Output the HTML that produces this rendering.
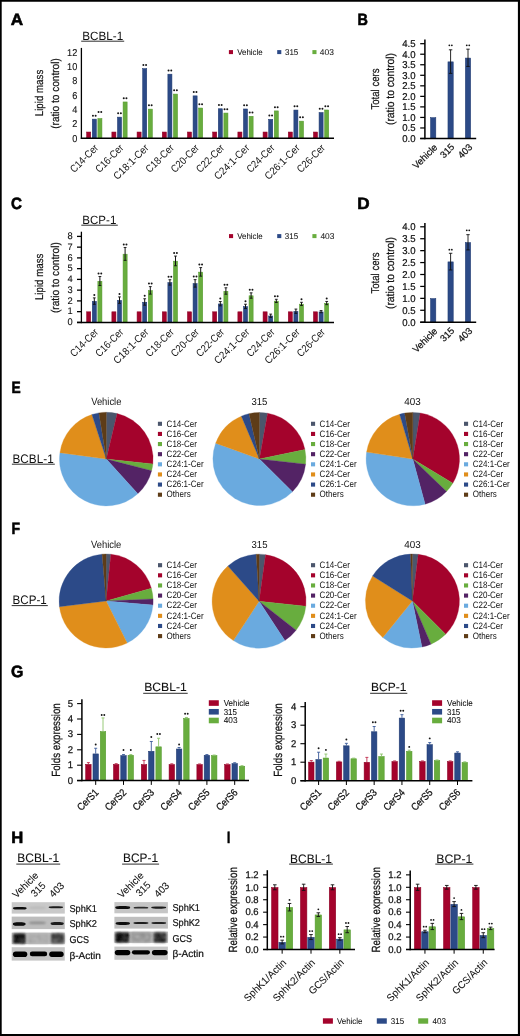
<!DOCTYPE html>
<html><head><meta charset="utf-8"><title>Figure</title>
<style>html,body{margin:0;padding:0;background:#fff;width:520px;height:1036px;overflow:hidden}svg{display:block;will-change:transform}</style>
</head><body>
<svg width="520" height="1036" viewBox="0 0 520 1036" text-rendering="geometricPrecision" font-family='"Liberation Sans", sans-serif' fill="#111"><defs><filter id="bl" x="-30%" y="-100%" width="160%" height="300%"><feGaussianBlur stdDeviation="0.6"/></filter><filter id="bl2" x="-30%" y="-100%" width="160%" height="300%"><feGaussianBlur stdDeviation="1.0"/></filter><filter id="bl3" x="-20%" y="-30%" width="140%" height="160%"><feGaussianBlur stdDeviation="0.9"/></filter></defs><rect width="520" height="1036" fill="#fff"/><path d="M0 0H520V1036H0Z M1.7 1.7V1033.9H517.9V1.7Z" fill="#000" fill-rule="evenodd"/>
<text x="10.77" y="25.1" font-size="16.4" font-weight="bold" textLength="12.37" lengthAdjust="spacingAndGlyphs" fill="#000" stroke="#000" stroke-width="0.6">A</text>
<text x="82.2" y="39.9" font-size="12" textLength="41" lengthAdjust="spacingAndGlyphs">BCBL-1</text>
<line x1="81.2" y1="41.2" x2="124.2" y2="41.2" stroke="#222" stroke-width="0.95"/>
<text x="77.3" y="141.7" font-size="9.9" text-anchor="end" textLength="5.1" lengthAdjust="spacingAndGlyphs" stroke="#111" stroke-width="0.1">0</text>
<text x="77.3" y="127.38" font-size="9.9" text-anchor="end" textLength="5.1" lengthAdjust="spacingAndGlyphs" stroke="#111" stroke-width="0.1">2</text>
<text x="77.3" y="113.06" font-size="9.9" text-anchor="end" textLength="5.1" lengthAdjust="spacingAndGlyphs" stroke="#111" stroke-width="0.1">4</text>
<text x="77.3" y="98.74" font-size="9.9" text-anchor="end" textLength="5.1" lengthAdjust="spacingAndGlyphs" stroke="#111" stroke-width="0.1">6</text>
<text x="77.3" y="84.42" font-size="9.9" text-anchor="end" textLength="5.1" lengthAdjust="spacingAndGlyphs" stroke="#111" stroke-width="0.1">8</text>
<text x="77.3" y="70.1" font-size="9.9" text-anchor="end" textLength="10.2" lengthAdjust="spacingAndGlyphs" stroke="#111" stroke-width="0.1">10</text>
<text x="77.3" y="55.78" font-size="9.9" text-anchor="end" textLength="10.2" lengthAdjust="spacingAndGlyphs" stroke="#111" stroke-width="0.1">12</text>
<rect x="86.68" y="132.03" width="4.05" height="5.89" fill="#a4032c" stroke="#8c0325" stroke-width="0.55"/>
<rect x="92.28" y="119.14" width="4.05" height="18.78" fill="#2c4a87" stroke="#1f3a70" stroke-width="0.55"/>
<rect x="97.88" y="118.57" width="4.05" height="19.35" fill="#68ad3e" stroke="#559a2e" stroke-width="0.55"/>
<circle cx="92.95" cy="115.7" r="1" fill="#161616"/>
<circle cx="95.65" cy="115.7" r="1" fill="#161616"/>
<circle cx="98.55" cy="112" r="1" fill="#161616"/>
<circle cx="101.25" cy="112" r="1" fill="#161616"/>
<rect x="111.88" y="132.03" width="4.05" height="5.89" fill="#a4032c" stroke="#8c0325" stroke-width="0.55"/>
<rect x="117.48" y="117.14" width="4.05" height="20.79" fill="#2c4a87" stroke="#1f3a70" stroke-width="0.55"/>
<rect x="123.08" y="101.96" width="4.05" height="35.97" fill="#68ad3e" stroke="#559a2e" stroke-width="0.55"/>
<circle cx="118.15" cy="113.36" r="1" fill="#161616"/>
<circle cx="120.85" cy="113.36" r="1" fill="#161616"/>
<circle cx="123.75" cy="98.18" r="1" fill="#161616"/>
<circle cx="126.45" cy="98.18" r="1" fill="#161616"/>
<rect x="137.08" y="132.03" width="4.05" height="5.89" fill="#a4032c" stroke="#8c0325" stroke-width="0.55"/>
<rect x="142.68" y="68.66" width="4.05" height="69.26" fill="#2c4a87" stroke="#1f3a70" stroke-width="0.55"/>
<rect x="148.28" y="109.12" width="4.05" height="28.81" fill="#68ad3e" stroke="#559a2e" stroke-width="0.55"/>
<circle cx="143.35" cy="64.89" r="1" fill="#161616"/>
<circle cx="146.05" cy="64.89" r="1" fill="#161616"/>
<circle cx="148.95" cy="105.34" r="1" fill="#161616"/>
<circle cx="151.65" cy="105.34" r="1" fill="#161616"/>
<rect x="162.28" y="132.03" width="4.05" height="5.89" fill="#a4032c" stroke="#8c0325" stroke-width="0.55"/>
<rect x="167.88" y="74.18" width="4.05" height="63.75" fill="#2c4a87" stroke="#1f3a70" stroke-width="0.55"/>
<rect x="173.47" y="94.08" width="4.05" height="43.84" fill="#68ad3e" stroke="#559a2e" stroke-width="0.55"/>
<circle cx="168.55" cy="70.4" r="1" fill="#161616"/>
<circle cx="171.25" cy="70.4" r="1" fill="#161616"/>
<circle cx="174.15" cy="90.31" r="1" fill="#161616"/>
<circle cx="176.85" cy="90.31" r="1" fill="#161616"/>
<rect x="187.47" y="132.03" width="4.05" height="5.89" fill="#a4032c" stroke="#8c0325" stroke-width="0.55"/>
<rect x="193.07" y="95.87" width="4.05" height="42.05" fill="#2c4a87" stroke="#1f3a70" stroke-width="0.55"/>
<rect x="198.67" y="108.04" width="4.05" height="29.88" fill="#68ad3e" stroke="#559a2e" stroke-width="0.55"/>
<circle cx="193.75" cy="92.1" r="1" fill="#161616"/>
<circle cx="196.45" cy="92.1" r="1" fill="#161616"/>
<circle cx="199.35" cy="104.27" r="1" fill="#161616"/>
<circle cx="202.05" cy="104.27" r="1" fill="#161616"/>
<rect x="212.68" y="132.03" width="4.05" height="5.89" fill="#a4032c" stroke="#8c0325" stroke-width="0.55"/>
<rect x="218.28" y="108.76" width="4.05" height="29.16" fill="#2c4a87" stroke="#1f3a70" stroke-width="0.55"/>
<rect x="223.88" y="113.06" width="4.05" height="24.87" fill="#68ad3e" stroke="#559a2e" stroke-width="0.55"/>
<circle cx="218.95" cy="104.99" r="1" fill="#161616"/>
<circle cx="221.65" cy="104.99" r="1" fill="#161616"/>
<circle cx="224.55" cy="109.28" r="1" fill="#161616"/>
<circle cx="227.25" cy="109.28" r="1" fill="#161616"/>
<rect x="237.88" y="132.03" width="4.05" height="5.89" fill="#a4032c" stroke="#8c0325" stroke-width="0.55"/>
<rect x="243.47" y="108.98" width="4.05" height="28.95" fill="#2c4a87" stroke="#1f3a70" stroke-width="0.55"/>
<rect x="249.07" y="116.28" width="4.05" height="21.65" fill="#68ad3e" stroke="#559a2e" stroke-width="0.55"/>
<circle cx="244.15" cy="105.2" r="1" fill="#161616"/>
<circle cx="246.85" cy="105.2" r="1" fill="#161616"/>
<circle cx="249.75" cy="112.5" r="1" fill="#161616"/>
<circle cx="252.45" cy="112.5" r="1" fill="#161616"/>
<rect x="263.07" y="132.03" width="4.05" height="5.89" fill="#a4032c" stroke="#8c0325" stroke-width="0.55"/>
<rect x="268.68" y="119.36" width="4.05" height="18.57" fill="#2c4a87" stroke="#1f3a70" stroke-width="0.55"/>
<rect x="274.27" y="110.91" width="4.05" height="27.02" fill="#68ad3e" stroke="#559a2e" stroke-width="0.55"/>
<circle cx="269.35" cy="115.58" r="1" fill="#161616"/>
<circle cx="272.05" cy="115.58" r="1" fill="#161616"/>
<circle cx="274.95" cy="107.13" r="1" fill="#161616"/>
<circle cx="277.65" cy="107.13" r="1" fill="#161616"/>
<rect x="288.27" y="132.03" width="4.05" height="5.89" fill="#a4032c" stroke="#8c0325" stroke-width="0.55"/>
<rect x="293.88" y="110.05" width="4.05" height="27.88" fill="#2c4a87" stroke="#1f3a70" stroke-width="0.55"/>
<rect x="299.47" y="121.15" width="4.05" height="16.78" fill="#68ad3e" stroke="#559a2e" stroke-width="0.55"/>
<circle cx="294.55" cy="106.27" r="1" fill="#161616"/>
<circle cx="297.25" cy="106.27" r="1" fill="#161616"/>
<circle cx="300.15" cy="117.37" r="1" fill="#161616"/>
<circle cx="302.85" cy="117.37" r="1" fill="#161616"/>
<rect x="313.47" y="132.03" width="4.05" height="5.89" fill="#a4032c" stroke="#8c0325" stroke-width="0.55"/>
<rect x="319.07" y="112.56" width="4.05" height="25.37" fill="#2c4a87" stroke="#1f3a70" stroke-width="0.55"/>
<rect x="324.67" y="109.98" width="4.05" height="27.95" fill="#68ad3e" stroke="#559a2e" stroke-width="0.55"/>
<circle cx="319.75" cy="108.78" r="1" fill="#161616"/>
<circle cx="322.45" cy="108.78" r="1" fill="#161616"/>
<circle cx="325.35" cy="106.2" r="1" fill="#161616"/>
<circle cx="328.05" cy="106.2" r="1" fill="#161616"/>
<line x1="81.4" y1="47.9" x2="81.4" y2="139" stroke="#000" stroke-width="1.3"/>
<line x1="80.8" y1="138.2" x2="334" y2="138.2" stroke="#000" stroke-width="1.5"/>
<text x="99" y="148.5" font-size="10.5" text-anchor="end" textLength="35" lengthAdjust="spacingAndGlyphs" transform="rotate(-45 99 148.5)">C14-Cer</text>
<text x="124.2" y="148.5" font-size="10.5" text-anchor="end" textLength="35" lengthAdjust="spacingAndGlyphs" transform="rotate(-45 124.2 148.5)">C16-Cer</text>
<text x="149.4" y="148.5" font-size="10.5" text-anchor="end" textLength="45" lengthAdjust="spacingAndGlyphs" transform="rotate(-45 149.4 148.5)">C18:1-Cer</text>
<text x="174.6" y="148.5" font-size="10.5" text-anchor="end" textLength="35" lengthAdjust="spacingAndGlyphs" transform="rotate(-45 174.6 148.5)">C18-Cer</text>
<text x="199.8" y="148.5" font-size="10.5" text-anchor="end" textLength="35" lengthAdjust="spacingAndGlyphs" transform="rotate(-45 199.8 148.5)">C20-Cer</text>
<text x="225" y="148.5" font-size="10.5" text-anchor="end" textLength="35" lengthAdjust="spacingAndGlyphs" transform="rotate(-45 225 148.5)">C22-Cer</text>
<text x="250.2" y="148.5" font-size="10.5" text-anchor="end" textLength="45" lengthAdjust="spacingAndGlyphs" transform="rotate(-45 250.2 148.5)">C24:1-Cer</text>
<text x="275.4" y="148.5" font-size="10.5" text-anchor="end" textLength="35" lengthAdjust="spacingAndGlyphs" transform="rotate(-45 275.4 148.5)">C24-Cer</text>
<text x="300.6" y="148.5" font-size="10.5" text-anchor="end" textLength="45" lengthAdjust="spacingAndGlyphs" transform="rotate(-45 300.6 148.5)">C26:1-Cer</text>
<text x="325.8" y="148.5" font-size="10.5" text-anchor="end" textLength="35" lengthAdjust="spacingAndGlyphs" transform="rotate(-45 325.8 148.5)">C26-Cer</text>
<text x="43.4" y="93" font-size="11.3" text-anchor="middle" textLength="46.5" lengthAdjust="spacingAndGlyphs" transform="rotate(-90 43.4 93)" stroke="#111" stroke-width="0.2">Lipid mass</text>
<text x="58.9" y="93.5" font-size="11.3" text-anchor="middle" textLength="70.6" lengthAdjust="spacingAndGlyphs" transform="rotate(-90 58.9 93.5)" stroke="#111" stroke-width="0.2">(ratio to control)</text>
<rect x="228.9" y="50.1" width="4.1" height="4" fill="#a4032c"/>
<text x="237.2" y="54.8" font-size="8.3" textLength="25.5" lengthAdjust="spacingAndGlyphs" stroke="#111" stroke-width="0.05">Vehicle</text>
<rect x="277.2" y="50.1" width="4.1" height="4" fill="#2c4a87"/>
<text x="285" y="54.8" font-size="8.3" textLength="13.3" lengthAdjust="spacingAndGlyphs" stroke="#111" stroke-width="0.05">315</text>
<rect x="312.4" y="50.1" width="4.1" height="4" fill="#68ad3e"/>
<text x="319.8" y="54.8" font-size="8.3" textLength="14" lengthAdjust="spacingAndGlyphs" stroke="#111" stroke-width="0.05">403</text>
<text x="357.53" y="24.6" font-size="16.4" font-weight="bold" textLength="10.42" lengthAdjust="spacingAndGlyphs" fill="#000" stroke="#000" stroke-width="0.6">B</text>
<text x="415.6" y="141.8" font-size="9.9" text-anchor="end" textLength="13.3" lengthAdjust="spacingAndGlyphs" stroke="#111" stroke-width="0.22">0.0</text>
<line x1="420.2" y1="138.5" x2="424.9" y2="138.5" stroke="#000" stroke-width="1.25"/>
<text x="415.6" y="131.27" font-size="9.9" text-anchor="end" textLength="13.3" lengthAdjust="spacingAndGlyphs" stroke="#111" stroke-width="0.22">0.5</text>
<line x1="420.2" y1="127.97" x2="424.9" y2="127.97" stroke="#000" stroke-width="1.25"/>
<text x="415.6" y="120.73" font-size="9.9" text-anchor="end" textLength="13.3" lengthAdjust="spacingAndGlyphs" stroke="#111" stroke-width="0.22">1.0</text>
<line x1="420.2" y1="117.43" x2="424.9" y2="117.43" stroke="#000" stroke-width="1.25"/>
<text x="415.6" y="110.19" font-size="9.9" text-anchor="end" textLength="13.3" lengthAdjust="spacingAndGlyphs" stroke="#111" stroke-width="0.22">1.5</text>
<line x1="420.2" y1="106.89" x2="424.9" y2="106.89" stroke="#000" stroke-width="1.25"/>
<text x="415.6" y="99.66" font-size="9.9" text-anchor="end" textLength="13.3" lengthAdjust="spacingAndGlyphs" stroke="#111" stroke-width="0.22">2.0</text>
<line x1="420.2" y1="96.36" x2="424.9" y2="96.36" stroke="#000" stroke-width="1.25"/>
<text x="415.6" y="89.12" font-size="9.9" text-anchor="end" textLength="13.3" lengthAdjust="spacingAndGlyphs" stroke="#111" stroke-width="0.22">2.5</text>
<line x1="420.2" y1="85.83" x2="424.9" y2="85.83" stroke="#000" stroke-width="1.25"/>
<text x="415.6" y="78.59" font-size="9.9" text-anchor="end" textLength="13.3" lengthAdjust="spacingAndGlyphs" stroke="#111" stroke-width="0.22">3.0</text>
<line x1="420.2" y1="75.29" x2="424.9" y2="75.29" stroke="#000" stroke-width="1.25"/>
<text x="415.6" y="68.05" font-size="9.9" text-anchor="end" textLength="13.3" lengthAdjust="spacingAndGlyphs" stroke="#111" stroke-width="0.22">3.5</text>
<line x1="420.2" y1="64.75" x2="424.9" y2="64.75" stroke="#000" stroke-width="1.25"/>
<text x="415.6" y="57.52" font-size="9.9" text-anchor="end" textLength="13.3" lengthAdjust="spacingAndGlyphs" stroke="#111" stroke-width="0.22">4.0</text>
<line x1="420.2" y1="54.22" x2="424.9" y2="54.22" stroke="#000" stroke-width="1.25"/>
<text x="415.6" y="46.98" font-size="9.9" text-anchor="end" textLength="13.3" lengthAdjust="spacingAndGlyphs" stroke="#111" stroke-width="0.22">4.5</text>
<line x1="420.2" y1="43.69" x2="424.9" y2="43.69" stroke="#000" stroke-width="1.25"/>
<rect x="430.57" y="117.71" width="5.25" height="20.52" fill="#2c4a87" stroke="#1f3a70" stroke-width="0.55"/>
<rect x="447.97" y="61.87" width="5.25" height="76.36" fill="#2c4a87" stroke="#1f3a70" stroke-width="0.55"/>
<line x1="450.6" y1="49.8" x2="450.6" y2="73.39" stroke="#111" stroke-width="0.9"/>
<line x1="448.9" y1="49.8" x2="452.3" y2="49.8" stroke="#111" stroke-width="0.9"/>
<line x1="448.9" y1="73.39" x2="452.3" y2="73.39" stroke="#111" stroke-width="0.9"/>
<circle cx="449.35" cy="45.3" r="0.9" fill="#161616"/>
<circle cx="451.85" cy="45.3" r="0.9" fill="#161616"/>
<rect x="465.38" y="58.08" width="5.25" height="80.15" fill="#2c4a87" stroke="#1f3a70" stroke-width="0.55"/>
<line x1="468" y1="49.16" x2="468" y2="66.44" stroke="#111" stroke-width="0.9"/>
<line x1="466.3" y1="49.16" x2="469.7" y2="49.16" stroke="#111" stroke-width="0.9"/>
<line x1="466.3" y1="66.44" x2="469.7" y2="66.44" stroke="#111" stroke-width="0.9"/>
<circle cx="466.75" cy="45.3" r="0.9" fill="#161616"/>
<circle cx="469.25" cy="45.3" r="0.9" fill="#161616"/>
<line x1="424.9" y1="39.5" x2="424.9" y2="139.3" stroke="#000" stroke-width="1.5"/>
<line x1="420.2" y1="138.5" x2="476.2" y2="138.5" stroke="#000" stroke-width="1.5"/>
<text x="438.1" y="148" font-size="9.6" text-anchor="end" textLength="30.5" lengthAdjust="spacingAndGlyphs" transform="rotate(-45 438.1 148)" stroke="#111" stroke-width="0.22">Vehicle</text>
<text x="455" y="147.7" font-size="9.6" text-anchor="end" textLength="15.5" lengthAdjust="spacingAndGlyphs" transform="rotate(-45 455 147.7)" stroke="#111" stroke-width="0.22">315</text>
<text x="473" y="147.7" font-size="9.6" text-anchor="end" textLength="16" lengthAdjust="spacingAndGlyphs" transform="rotate(-45 473 147.7)" stroke="#111" stroke-width="0.22">403</text>
<text x="379" y="89" font-size="11.4" text-anchor="middle" textLength="41" lengthAdjust="spacingAndGlyphs" transform="rotate(-90 379 89)" stroke="#111" stroke-width="0.22">Total cers</text>
<text x="394.2" y="89" font-size="11.4" text-anchor="middle" textLength="72" lengthAdjust="spacingAndGlyphs" transform="rotate(-90 394.2 89)" stroke="#111" stroke-width="0.22">(ratio to control)</text>
<text x="10.98" y="208.7" font-size="16.4" font-weight="bold" textLength="10.93" lengthAdjust="spacingAndGlyphs" fill="#000" stroke="#000" stroke-width="0.6">C</text>
<text x="82.3" y="223.7" font-size="12" textLength="34" lengthAdjust="spacingAndGlyphs">BCP-1</text>
<line x1="81.3" y1="225.2" x2="117.8" y2="225.2" stroke="#222" stroke-width="0.95"/>
<text x="72.8" y="325" font-size="9.5" text-anchor="end" textLength="5.2" lengthAdjust="spacingAndGlyphs" stroke="#111" stroke-width="0.1">0</text>
<line x1="77" y1="322.4" x2="81.4" y2="322.4" stroke="#000" stroke-width="1.3"/>
<text x="72.8" y="314.25" font-size="9.5" text-anchor="end" textLength="5.2" lengthAdjust="spacingAndGlyphs" stroke="#111" stroke-width="0.1">1</text>
<line x1="77" y1="311.65" x2="81.4" y2="311.65" stroke="#000" stroke-width="1.3"/>
<text x="72.8" y="303.5" font-size="9.5" text-anchor="end" textLength="5.2" lengthAdjust="spacingAndGlyphs" stroke="#111" stroke-width="0.1">2</text>
<line x1="77" y1="300.9" x2="81.4" y2="300.9" stroke="#000" stroke-width="1.3"/>
<text x="72.8" y="292.75" font-size="9.5" text-anchor="end" textLength="5.2" lengthAdjust="spacingAndGlyphs" stroke="#111" stroke-width="0.1">3</text>
<line x1="77" y1="290.15" x2="81.4" y2="290.15" stroke="#000" stroke-width="1.3"/>
<text x="72.8" y="282" font-size="9.5" text-anchor="end" textLength="5.2" lengthAdjust="spacingAndGlyphs" stroke="#111" stroke-width="0.1">4</text>
<line x1="77" y1="279.4" x2="81.4" y2="279.4" stroke="#000" stroke-width="1.3"/>
<text x="72.8" y="271.25" font-size="9.5" text-anchor="end" textLength="5.2" lengthAdjust="spacingAndGlyphs" stroke="#111" stroke-width="0.1">5</text>
<line x1="77" y1="268.65" x2="81.4" y2="268.65" stroke="#000" stroke-width="1.3"/>
<text x="72.8" y="260.5" font-size="9.5" text-anchor="end" textLength="5.2" lengthAdjust="spacingAndGlyphs" stroke="#111" stroke-width="0.1">6</text>
<line x1="77" y1="257.9" x2="81.4" y2="257.9" stroke="#000" stroke-width="1.3"/>
<text x="72.8" y="249.75" font-size="9.5" text-anchor="end" textLength="5.2" lengthAdjust="spacingAndGlyphs" stroke="#111" stroke-width="0.1">7</text>
<line x1="77" y1="247.15" x2="81.4" y2="247.15" stroke="#000" stroke-width="1.3"/>
<text x="72.8" y="239" font-size="9.5" text-anchor="end" textLength="5.2" lengthAdjust="spacingAndGlyphs" stroke="#111" stroke-width="0.1">8</text>
<line x1="77" y1="236.4" x2="81.4" y2="236.4" stroke="#000" stroke-width="1.3"/>
<rect x="86.68" y="311.82" width="4.05" height="10.31" fill="#a4032c" stroke="#8c0325" stroke-width="0.55"/>
<rect x="92.28" y="301.39" width="4.05" height="20.74" fill="#2c4a87" stroke="#1f3a70" stroke-width="0.55"/>
<rect x="97.88" y="281.29" width="4.05" height="40.84" fill="#68ad3e" stroke="#559a2e" stroke-width="0.55"/>
<line x1="94.3" y1="297.89" x2="94.3" y2="304.34" stroke="#111" stroke-width="1"/>
<line x1="92.9" y1="297.89" x2="95.7" y2="297.89" stroke="#111" stroke-width="0.9"/>
<line x1="92.9" y1="304.34" x2="95.7" y2="304.34" stroke="#111" stroke-width="0.9"/>
<line x1="99.9" y1="276.5" x2="99.9" y2="285.53" stroke="#111" stroke-width="1"/>
<line x1="98.5" y1="276.5" x2="101.3" y2="276.5" stroke="#111" stroke-width="0.9"/>
<line x1="98.5" y1="285.53" x2="101.3" y2="285.53" stroke="#111" stroke-width="0.9"/>
<circle cx="94.3" cy="294.89" r="1" fill="#161616"/>
<circle cx="98.55" cy="273.5" r="1" fill="#161616"/>
<circle cx="101.25" cy="273.5" r="1" fill="#161616"/>
<rect x="111.88" y="311.82" width="4.05" height="10.31" fill="#a4032c" stroke="#8c0325" stroke-width="0.55"/>
<rect x="117.48" y="300.42" width="4.05" height="21.7" fill="#2c4a87" stroke="#1f3a70" stroke-width="0.55"/>
<rect x="123.08" y="254.2" width="4.05" height="67.93" fill="#68ad3e" stroke="#559a2e" stroke-width="0.55"/>
<line x1="119.5" y1="296.92" x2="119.5" y2="303.37" stroke="#111" stroke-width="1"/>
<line x1="118.1" y1="296.92" x2="120.9" y2="296.92" stroke="#111" stroke-width="0.9"/>
<line x1="118.1" y1="303.37" x2="120.9" y2="303.37" stroke="#111" stroke-width="0.9"/>
<line x1="125.1" y1="247.47" x2="125.1" y2="260.37" stroke="#111" stroke-width="1"/>
<line x1="123.7" y1="247.47" x2="126.5" y2="247.47" stroke="#111" stroke-width="0.9"/>
<line x1="123.7" y1="260.37" x2="126.5" y2="260.37" stroke="#111" stroke-width="0.9"/>
<circle cx="119.5" cy="293.92" r="1" fill="#161616"/>
<circle cx="123.75" cy="244.47" r="1" fill="#161616"/>
<circle cx="126.45" cy="244.47" r="1" fill="#161616"/>
<rect x="137.08" y="311.82" width="4.05" height="10.31" fill="#a4032c" stroke="#8c0325" stroke-width="0.55"/>
<rect x="142.68" y="302.25" width="4.05" height="19.88" fill="#2c4a87" stroke="#1f3a70" stroke-width="0.55"/>
<rect x="148.28" y="290.64" width="4.05" height="31.48" fill="#68ad3e" stroke="#559a2e" stroke-width="0.55"/>
<line x1="144.7" y1="298.75" x2="144.7" y2="305.2" stroke="#111" stroke-width="1"/>
<line x1="143.3" y1="298.75" x2="146.1" y2="298.75" stroke="#111" stroke-width="0.9"/>
<line x1="143.3" y1="305.2" x2="146.1" y2="305.2" stroke="#111" stroke-width="0.9"/>
<line x1="150.3" y1="286.6" x2="150.3" y2="294.13" stroke="#111" stroke-width="1"/>
<line x1="148.9" y1="286.6" x2="151.7" y2="286.6" stroke="#111" stroke-width="0.9"/>
<line x1="148.9" y1="294.13" x2="151.7" y2="294.13" stroke="#111" stroke-width="0.9"/>
<circle cx="144.7" cy="295.75" r="1" fill="#161616"/>
<circle cx="148.95" cy="283.6" r="1" fill="#161616"/>
<circle cx="151.65" cy="283.6" r="1" fill="#161616"/>
<rect x="162.28" y="311.82" width="4.05" height="10.31" fill="#a4032c" stroke="#8c0325" stroke-width="0.55"/>
<rect x="167.88" y="282.68" width="4.05" height="39.44" fill="#2c4a87" stroke="#1f3a70" stroke-width="0.55"/>
<rect x="173.47" y="261.18" width="4.05" height="60.94" fill="#68ad3e" stroke="#559a2e" stroke-width="0.55"/>
<line x1="169.9" y1="279.72" x2="169.9" y2="285.1" stroke="#111" stroke-width="1"/>
<line x1="168.5" y1="279.72" x2="171.3" y2="279.72" stroke="#111" stroke-width="0.9"/>
<line x1="168.5" y1="285.1" x2="171.3" y2="285.1" stroke="#111" stroke-width="0.9"/>
<line x1="175.5" y1="256.07" x2="175.5" y2="265.75" stroke="#111" stroke-width="1"/>
<line x1="174.1" y1="256.07" x2="176.9" y2="256.07" stroke="#111" stroke-width="0.9"/>
<line x1="174.1" y1="265.75" x2="176.9" y2="265.75" stroke="#111" stroke-width="0.9"/>
<circle cx="168.55" cy="276.72" r="1" fill="#161616"/>
<circle cx="171.25" cy="276.72" r="1" fill="#161616"/>
<circle cx="174.15" cy="253.07" r="1" fill="#161616"/>
<circle cx="176.85" cy="253.07" r="1" fill="#161616"/>
<rect x="187.47" y="311.82" width="4.05" height="10.31" fill="#a4032c" stroke="#8c0325" stroke-width="0.55"/>
<rect x="193.07" y="283.65" width="4.05" height="38.47" fill="#2c4a87" stroke="#1f3a70" stroke-width="0.55"/>
<rect x="198.67" y="272.15" width="4.05" height="49.97" fill="#68ad3e" stroke="#559a2e" stroke-width="0.55"/>
<line x1="195.1" y1="279.62" x2="195.1" y2="287.14" stroke="#111" stroke-width="1"/>
<line x1="193.7" y1="279.62" x2="196.5" y2="279.62" stroke="#111" stroke-width="0.9"/>
<line x1="193.7" y1="287.14" x2="196.5" y2="287.14" stroke="#111" stroke-width="0.9"/>
<line x1="200.7" y1="267.57" x2="200.7" y2="276.17" stroke="#111" stroke-width="1"/>
<line x1="199.3" y1="267.57" x2="202.1" y2="267.57" stroke="#111" stroke-width="0.9"/>
<line x1="199.3" y1="276.17" x2="202.1" y2="276.17" stroke="#111" stroke-width="0.9"/>
<circle cx="193.75" cy="276.62" r="1" fill="#161616"/>
<circle cx="196.45" cy="276.62" r="1" fill="#161616"/>
<circle cx="199.35" cy="264.57" r="1" fill="#161616"/>
<circle cx="202.05" cy="264.57" r="1" fill="#161616"/>
<rect x="212.68" y="311.82" width="4.05" height="10.31" fill="#a4032c" stroke="#8c0325" stroke-width="0.55"/>
<rect x="218.28" y="303.97" width="4.05" height="18.15" fill="#2c4a87" stroke="#1f3a70" stroke-width="0.55"/>
<rect x="223.88" y="291.28" width="4.05" height="30.84" fill="#68ad3e" stroke="#559a2e" stroke-width="0.55"/>
<line x1="220.3" y1="301.54" x2="220.3" y2="305.84" stroke="#111" stroke-width="1"/>
<line x1="218.9" y1="301.54" x2="221.7" y2="301.54" stroke="#111" stroke-width="0.9"/>
<line x1="218.9" y1="305.84" x2="221.7" y2="305.84" stroke="#111" stroke-width="0.9"/>
<line x1="225.9" y1="287.78" x2="225.9" y2="294.23" stroke="#111" stroke-width="1"/>
<line x1="224.5" y1="287.78" x2="227.3" y2="287.78" stroke="#111" stroke-width="0.9"/>
<line x1="224.5" y1="294.23" x2="227.3" y2="294.23" stroke="#111" stroke-width="0.9"/>
<circle cx="220.3" cy="298.54" r="1" fill="#161616"/>
<circle cx="224.55" cy="284.78" r="1" fill="#161616"/>
<circle cx="227.25" cy="284.78" r="1" fill="#161616"/>
<rect x="237.88" y="311.82" width="4.05" height="10.31" fill="#a4032c" stroke="#8c0325" stroke-width="0.55"/>
<rect x="243.47" y="306.66" width="4.05" height="15.47" fill="#2c4a87" stroke="#1f3a70" stroke-width="0.55"/>
<rect x="249.07" y="295.8" width="4.05" height="26.32" fill="#68ad3e" stroke="#559a2e" stroke-width="0.55"/>
<line x1="245.5" y1="304.23" x2="245.5" y2="308.53" stroke="#111" stroke-width="1"/>
<line x1="244.1" y1="304.23" x2="246.9" y2="304.23" stroke="#111" stroke-width="0.9"/>
<line x1="244.1" y1="308.53" x2="246.9" y2="308.53" stroke="#111" stroke-width="0.9"/>
<line x1="251.1" y1="292.84" x2="251.1" y2="298.21" stroke="#111" stroke-width="1"/>
<line x1="249.7" y1="292.84" x2="252.5" y2="292.84" stroke="#111" stroke-width="0.9"/>
<line x1="249.7" y1="298.21" x2="252.5" y2="298.21" stroke="#111" stroke-width="0.9"/>
<circle cx="245.5" cy="301.23" r="1" fill="#161616"/>
<circle cx="249.75" cy="289.84" r="1" fill="#161616"/>
<circle cx="252.45" cy="289.84" r="1" fill="#161616"/>
<rect x="263.07" y="311.82" width="4.05" height="10.31" fill="#a4032c" stroke="#8c0325" stroke-width="0.55"/>
<rect x="268.68" y="316.01" width="4.05" height="6.12" fill="#2c4a87" stroke="#1f3a70" stroke-width="0.55"/>
<rect x="274.27" y="301.17" width="4.05" height="20.95" fill="#68ad3e" stroke="#559a2e" stroke-width="0.55"/>
<line x1="270.7" y1="314.12" x2="270.7" y2="317.35" stroke="#111" stroke-width="1"/>
<line x1="269.3" y1="314.12" x2="272.1" y2="314.12" stroke="#111" stroke-width="0.9"/>
<line x1="269.3" y1="317.35" x2="272.1" y2="317.35" stroke="#111" stroke-width="0.9"/>
<line x1="276.3" y1="299.29" x2="276.3" y2="302.51" stroke="#111" stroke-width="1"/>
<line x1="274.9" y1="299.29" x2="277.7" y2="299.29" stroke="#111" stroke-width="0.9"/>
<line x1="274.9" y1="302.51" x2="277.7" y2="302.51" stroke="#111" stroke-width="0.9"/>
<circle cx="274.95" cy="296.29" r="1" fill="#161616"/>
<circle cx="277.65" cy="296.29" r="1" fill="#161616"/>
<rect x="288.27" y="311.82" width="4.05" height="10.31" fill="#a4032c" stroke="#8c0325" stroke-width="0.55"/>
<rect x="293.88" y="311.49" width="4.05" height="10.63" fill="#2c4a87" stroke="#1f3a70" stroke-width="0.55"/>
<rect x="299.47" y="304.18" width="4.05" height="17.94" fill="#68ad3e" stroke="#559a2e" stroke-width="0.55"/>
<line x1="295.9" y1="309.07" x2="295.9" y2="313.37" stroke="#111" stroke-width="1"/>
<line x1="294.5" y1="309.07" x2="297.3" y2="309.07" stroke="#111" stroke-width="0.9"/>
<line x1="294.5" y1="313.37" x2="297.3" y2="313.37" stroke="#111" stroke-width="0.9"/>
<line x1="301.5" y1="302.3" x2="301.5" y2="305.52" stroke="#111" stroke-width="1"/>
<line x1="300.1" y1="302.3" x2="302.9" y2="302.3" stroke="#111" stroke-width="0.9"/>
<line x1="300.1" y1="305.52" x2="302.9" y2="305.52" stroke="#111" stroke-width="0.9"/>
<circle cx="301.5" cy="299.3" r="1" fill="#161616"/>
<rect x="313.47" y="311.82" width="4.05" height="10.31" fill="#a4032c" stroke="#8c0325" stroke-width="0.55"/>
<rect x="319.07" y="311.92" width="4.05" height="10.2" fill="#2c4a87" stroke="#1f3a70" stroke-width="0.55"/>
<rect x="324.67" y="303.32" width="4.05" height="18.8" fill="#68ad3e" stroke="#559a2e" stroke-width="0.55"/>
<line x1="321.1" y1="310.57" x2="321.1" y2="312.72" stroke="#111" stroke-width="1"/>
<line x1="319.7" y1="310.57" x2="322.5" y2="310.57" stroke="#111" stroke-width="0.9"/>
<line x1="319.7" y1="312.72" x2="322.5" y2="312.72" stroke="#111" stroke-width="0.9"/>
<line x1="326.7" y1="301.44" x2="326.7" y2="304.66" stroke="#111" stroke-width="1"/>
<line x1="325.3" y1="301.44" x2="328.1" y2="301.44" stroke="#111" stroke-width="0.9"/>
<line x1="325.3" y1="304.66" x2="328.1" y2="304.66" stroke="#111" stroke-width="0.9"/>
<circle cx="326.7" cy="298.44" r="1" fill="#161616"/>
<line x1="81.4" y1="231.7" x2="81.4" y2="323.2" stroke="#000" stroke-width="1.3"/>
<line x1="77" y1="322.4" x2="334" y2="322.4" stroke="#000" stroke-width="1.5"/>
<text x="99" y="332.7" font-size="10.5" text-anchor="end" textLength="35" lengthAdjust="spacingAndGlyphs" transform="rotate(-45 99 332.7)">C14-Cer</text>
<text x="124.2" y="332.7" font-size="10.5" text-anchor="end" textLength="35" lengthAdjust="spacingAndGlyphs" transform="rotate(-45 124.2 332.7)">C16-Cer</text>
<text x="149.4" y="332.7" font-size="10.5" text-anchor="end" textLength="45" lengthAdjust="spacingAndGlyphs" transform="rotate(-45 149.4 332.7)">C18:1-Cer</text>
<text x="174.6" y="332.7" font-size="10.5" text-anchor="end" textLength="35" lengthAdjust="spacingAndGlyphs" transform="rotate(-45 174.6 332.7)">C18-Cer</text>
<text x="199.8" y="332.7" font-size="10.5" text-anchor="end" textLength="35" lengthAdjust="spacingAndGlyphs" transform="rotate(-45 199.8 332.7)">C20-Cer</text>
<text x="225" y="332.7" font-size="10.5" text-anchor="end" textLength="35" lengthAdjust="spacingAndGlyphs" transform="rotate(-45 225 332.7)">C22-Cer</text>
<text x="250.2" y="332.7" font-size="10.5" text-anchor="end" textLength="45" lengthAdjust="spacingAndGlyphs" transform="rotate(-45 250.2 332.7)">C24:1-Cer</text>
<text x="275.4" y="332.7" font-size="10.5" text-anchor="end" textLength="35" lengthAdjust="spacingAndGlyphs" transform="rotate(-45 275.4 332.7)">C24-Cer</text>
<text x="300.6" y="332.7" font-size="10.5" text-anchor="end" textLength="45" lengthAdjust="spacingAndGlyphs" transform="rotate(-45 300.6 332.7)">C26:1-Cer</text>
<text x="325.8" y="332.7" font-size="10.5" text-anchor="end" textLength="35" lengthAdjust="spacingAndGlyphs" transform="rotate(-45 325.8 332.7)">C26-Cer</text>
<text x="43.4" y="276.8" font-size="11.3" text-anchor="middle" textLength="46.5" lengthAdjust="spacingAndGlyphs" transform="rotate(-90 43.4 276.8)" stroke="#111" stroke-width="0.2">Lipid mass</text>
<text x="58.9" y="277.6" font-size="11.3" text-anchor="middle" textLength="70.8" lengthAdjust="spacingAndGlyphs" transform="rotate(-90 58.9 277.6)" stroke="#111" stroke-width="0.2">(ratio to control)</text>
<rect x="229" y="234.1" width="4.1" height="4" fill="#a4032c"/>
<text x="237.2" y="238.7" font-size="8.3" textLength="25.5" lengthAdjust="spacingAndGlyphs" stroke="#111" stroke-width="0.05">Vehicle</text>
<rect x="277.2" y="234.1" width="4.1" height="4" fill="#2c4a87"/>
<text x="284.8" y="238.7" font-size="8.3" textLength="13.3" lengthAdjust="spacingAndGlyphs" stroke="#111" stroke-width="0.05">315</text>
<rect x="312.4" y="234.1" width="4.1" height="4" fill="#68ad3e"/>
<text x="320.4" y="238.7" font-size="8.3" textLength="14" lengthAdjust="spacingAndGlyphs" stroke="#111" stroke-width="0.05">403</text>
<text x="357.35" y="208.7" font-size="16.4" font-weight="bold" textLength="12.37" lengthAdjust="spacingAndGlyphs" fill="#000" stroke="#000" stroke-width="0.6">D</text>
<text x="415.6" y="325.5" font-size="9.9" text-anchor="end" textLength="13.3" lengthAdjust="spacingAndGlyphs" stroke="#111" stroke-width="0.22">0.0</text>
<line x1="420.2" y1="322.2" x2="424.9" y2="322.2" stroke="#000" stroke-width="1.25"/>
<text x="415.6" y="313.57" font-size="9.9" text-anchor="end" textLength="13.3" lengthAdjust="spacingAndGlyphs" stroke="#111" stroke-width="0.22">0.5</text>
<line x1="420.2" y1="310.27" x2="424.9" y2="310.27" stroke="#000" stroke-width="1.25"/>
<text x="415.6" y="301.65" font-size="9.9" text-anchor="end" textLength="13.3" lengthAdjust="spacingAndGlyphs" stroke="#111" stroke-width="0.22">1.0</text>
<line x1="420.2" y1="298.35" x2="424.9" y2="298.35" stroke="#000" stroke-width="1.25"/>
<text x="415.6" y="289.72" font-size="9.9" text-anchor="end" textLength="13.3" lengthAdjust="spacingAndGlyphs" stroke="#111" stroke-width="0.22">1.5</text>
<line x1="420.2" y1="286.42" x2="424.9" y2="286.42" stroke="#000" stroke-width="1.25"/>
<text x="415.6" y="277.8" font-size="9.9" text-anchor="end" textLength="13.3" lengthAdjust="spacingAndGlyphs" stroke="#111" stroke-width="0.22">2.0</text>
<line x1="420.2" y1="274.5" x2="424.9" y2="274.5" stroke="#000" stroke-width="1.25"/>
<text x="415.6" y="265.88" font-size="9.9" text-anchor="end" textLength="13.3" lengthAdjust="spacingAndGlyphs" stroke="#111" stroke-width="0.22">2.5</text>
<line x1="420.2" y1="262.57" x2="424.9" y2="262.57" stroke="#000" stroke-width="1.25"/>
<text x="415.6" y="253.95" font-size="9.9" text-anchor="end" textLength="13.3" lengthAdjust="spacingAndGlyphs" stroke="#111" stroke-width="0.22">3.0</text>
<line x1="420.2" y1="250.65" x2="424.9" y2="250.65" stroke="#000" stroke-width="1.25"/>
<text x="415.6" y="242.02" font-size="9.9" text-anchor="end" textLength="13.3" lengthAdjust="spacingAndGlyphs" stroke="#111" stroke-width="0.22">3.5</text>
<line x1="420.2" y1="238.72" x2="424.9" y2="238.72" stroke="#000" stroke-width="1.25"/>
<text x="415.6" y="230.1" font-size="9.9" text-anchor="end" textLength="13.3" lengthAdjust="spacingAndGlyphs" stroke="#111" stroke-width="0.22">4.0</text>
<line x1="420.2" y1="226.8" x2="424.9" y2="226.8" stroke="#000" stroke-width="1.25"/>
<rect x="430.57" y="298.62" width="5.25" height="23.3" fill="#2c4a87" stroke="#1f3a70" stroke-width="0.55"/>
<rect x="447.97" y="261.9" width="5.25" height="60.03" fill="#2c4a87" stroke="#1f3a70" stroke-width="0.55"/>
<line x1="450.6" y1="253.27" x2="450.6" y2="269.97" stroke="#111" stroke-width="0.9"/>
<line x1="448.9" y1="253.27" x2="452.3" y2="253.27" stroke="#111" stroke-width="0.9"/>
<line x1="448.9" y1="269.97" x2="452.3" y2="269.97" stroke="#111" stroke-width="0.9"/>
<circle cx="449.35" cy="249.7" r="0.9" fill="#161616"/>
<circle cx="451.85" cy="249.7" r="0.9" fill="#161616"/>
<rect x="465.38" y="242.58" width="5.25" height="79.35" fill="#2c4a87" stroke="#1f3a70" stroke-width="0.55"/>
<line x1="468" y1="234.67" x2="468" y2="249.93" stroke="#111" stroke-width="0.9"/>
<line x1="466.3" y1="234.67" x2="469.7" y2="234.67" stroke="#111" stroke-width="0.9"/>
<line x1="466.3" y1="249.93" x2="469.7" y2="249.93" stroke="#111" stroke-width="0.9"/>
<circle cx="466.75" cy="230.3" r="0.9" fill="#161616"/>
<circle cx="469.25" cy="230.3" r="0.9" fill="#161616"/>
<line x1="424.9" y1="223" x2="424.9" y2="323" stroke="#000" stroke-width="1.5"/>
<line x1="420.2" y1="322.2" x2="476.2" y2="322.2" stroke="#000" stroke-width="1.5"/>
<text x="438.1" y="331.7" font-size="9.6" text-anchor="end" textLength="30.5" lengthAdjust="spacingAndGlyphs" transform="rotate(-45 438.1 331.7)" stroke="#111" stroke-width="0.22">Vehicle</text>
<text x="455" y="331.4" font-size="9.6" text-anchor="end" textLength="15.5" lengthAdjust="spacingAndGlyphs" transform="rotate(-45 455 331.4)" stroke="#111" stroke-width="0.22">315</text>
<text x="473" y="331.4" font-size="9.6" text-anchor="end" textLength="16" lengthAdjust="spacingAndGlyphs" transform="rotate(-45 473 331.4)" stroke="#111" stroke-width="0.22">403</text>
<text x="379" y="273" font-size="11.4" text-anchor="middle" textLength="41" lengthAdjust="spacingAndGlyphs" transform="rotate(-90 379 273)" stroke="#111" stroke-width="0.22">Total cers</text>
<text x="394.2" y="273" font-size="11.4" text-anchor="middle" textLength="72" lengthAdjust="spacingAndGlyphs" transform="rotate(-90 394.2 273)" stroke="#111" stroke-width="0.22">(ratio to control)</text>
<text x="11.38" y="392.7" font-size="16.4" font-weight="bold" textLength="9.15" lengthAdjust="spacingAndGlyphs" fill="#000" stroke="#000" stroke-width="0.6">E</text>
<text x="12.5" y="463.1" font-size="12.4" textLength="41.2" lengthAdjust="spacingAndGlyphs">BCBL-1</text>
<line x1="11.9" y1="464.2" x2="54.8" y2="464.2" stroke="#222" stroke-width="0.95"/>
<path d="M106.3 459.1L106.3 412.3A46.8 46.8 0 0 1 117.15 413.57Z" fill="#4b566c" stroke="#4b566c" stroke-width="0.3"/>
<path d="M106.3 459.1L117.15 413.57A46.8 46.8 0 0 1 152.85 463.91Z" fill="#a4032c" stroke="#a4032c" stroke-width="0.3"/>
<path d="M106.3 459.1L152.85 463.91A46.8 46.8 0 0 1 151.63 470.74Z" fill="#68ad3e" stroke="#68ad3e" stroke-width="0.3"/>
<path d="M106.3 459.1L151.63 470.74A46.8 46.8 0 0 1 137.8 493.71Z" fill="#532365" stroke="#532365" stroke-width="0.3"/>
<path d="M106.3 459.1L137.8 493.71A46.8 46.8 0 0 1 59.94 452.67Z" fill="#6aaadf" stroke="#6aaadf" stroke-width="0.3"/>
<path d="M106.3 459.1L59.94 452.67A46.8 46.8 0 0 1 91.92 414.57Z" fill="#e08e1b" stroke="#e08e1b" stroke-width="0.3"/>
<path d="M106.3 459.1L91.92 414.57A46.8 46.8 0 0 1 98.9 412.89Z" fill="#2c4a88" stroke="#2c4a88" stroke-width="0.3"/>
<path d="M106.3 459.1L98.9 412.89A46.8 46.8 0 0 1 106.3 412.3Z" fill="#5e3c17" stroke="#5e3c17" stroke-width="0.3"/>
<path d="M259.4 459L259.4 412.5A46.5 46.5 0 0 1 267.63 413.23Z" fill="#4b566c" stroke="#4b566c" stroke-width="0.3"/>
<path d="M259.4 459L267.63 413.23A46.5 46.5 0 0 1 304.93 449.57Z" fill="#a4032c" stroke="#a4032c" stroke-width="0.3"/>
<path d="M259.4 459L304.93 449.57A46.5 46.5 0 0 1 305.61 464.18Z" fill="#68ad3e" stroke="#68ad3e" stroke-width="0.3"/>
<path d="M259.4 459L305.61 464.18A46.5 46.5 0 0 1 292.4 491.77Z" fill="#532365" stroke="#532365" stroke-width="0.3"/>
<path d="M259.4 459L292.4 491.77A46.5 46.5 0 0 1 215.68 443.17Z" fill="#6aaadf" stroke="#6aaadf" stroke-width="0.3"/>
<path d="M259.4 459L215.68 443.17A46.5 46.5 0 0 1 241.38 416.13Z" fill="#e08e1b" stroke="#e08e1b" stroke-width="0.3"/>
<path d="M259.4 459L241.38 416.13A46.5 46.5 0 0 1 249.02 413.67Z" fill="#2c4a88" stroke="#2c4a88" stroke-width="0.3"/>
<path d="M259.4 459L249.02 413.67A46.5 46.5 0 0 1 259.4 412.5Z" fill="#5e3c17" stroke="#5e3c17" stroke-width="0.3"/>
<path d="M412.8 459.1L412.8 412.4A46.7 46.7 0 0 1 420.27 413Z" fill="#4b566c" stroke="#4b566c" stroke-width="0.3"/>
<path d="M412.8 459.1L420.27 413A46.7 46.7 0 0 1 452.83 483.15Z" fill="#a4032c" stroke="#a4032c" stroke-width="0.3"/>
<path d="M412.8 459.1L452.83 483.15A46.7 46.7 0 0 1 446.51 491.42Z" fill="#68ad3e" stroke="#68ad3e" stroke-width="0.3"/>
<path d="M412.8 459.1L446.51 491.42A46.7 46.7 0 0 1 425.12 504.14Z" fill="#532365" stroke="#532365" stroke-width="0.3"/>
<path d="M412.8 459.1L425.12 504.14A46.7 46.7 0 0 1 366.63 452.12Z" fill="#6aaadf" stroke="#6aaadf" stroke-width="0.3"/>
<path d="M412.8 459.1L366.63 452.12A46.7 46.7 0 0 1 399.61 414.3Z" fill="#e08e1b" stroke="#e08e1b" stroke-width="0.3"/>
<path d="M412.8 459.1L399.61 414.3A46.7 46.7 0 0 1 404.61 413.12Z" fill="#2c4a88" stroke="#2c4a88" stroke-width="0.3"/>
<path d="M412.8 459.1L404.61 413.12A46.7 46.7 0 0 1 412.8 412.4Z" fill="#5e3c17" stroke="#5e3c17" stroke-width="0.3"/>
<text x="106.3" y="405.4" font-size="10.4" text-anchor="middle" textLength="30.3" lengthAdjust="spacingAndGlyphs">Vehicle</text>
<text x="259.4" y="405.4" font-size="10.2" text-anchor="middle" textLength="16" lengthAdjust="spacingAndGlyphs">315</text>
<text x="412.4" y="405.4" font-size="10.2" text-anchor="middle" textLength="16.5" lengthAdjust="spacingAndGlyphs">403</text>
<rect x="157.9" y="421.75" width="4.1" height="4.1" fill="#4b566c"/>
<text x="166.6" y="426.55" font-size="9.3" textLength="30.31" lengthAdjust="spacingAndGlyphs">C14-Cer</text>
<rect x="157.9" y="431.88" width="4.1" height="4.1" fill="#a4032c"/>
<text x="166.6" y="436.68" font-size="9.3" textLength="30.31" lengthAdjust="spacingAndGlyphs">C16-Cer</text>
<rect x="157.9" y="442.01" width="4.1" height="4.1" fill="#68ad3e"/>
<text x="166.6" y="446.81" font-size="9.3" textLength="30.31" lengthAdjust="spacingAndGlyphs">C18-Cer</text>
<rect x="157.9" y="452.14" width="4.1" height="4.1" fill="#532365"/>
<text x="166.6" y="456.94" font-size="9.3" textLength="30.31" lengthAdjust="spacingAndGlyphs">C22-Cer</text>
<rect x="157.9" y="462.27" width="4.1" height="4.1" fill="#6aaadf"/>
<text x="166.6" y="467.07" font-size="9.3" textLength="37" lengthAdjust="spacingAndGlyphs">C24:1-Cer</text>
<rect x="157.9" y="472.4" width="4.1" height="4.1" fill="#e08e1b"/>
<text x="166.6" y="477.2" font-size="9.3" textLength="30.31" lengthAdjust="spacingAndGlyphs">C24-Cer</text>
<rect x="157.9" y="482.53" width="4.1" height="4.1" fill="#2c4a88"/>
<text x="166.6" y="487.33" font-size="9.3" textLength="37" lengthAdjust="spacingAndGlyphs">C26:1-Cer</text>
<rect x="157.9" y="492.66" width="4.1" height="4.1" fill="#5e3c17"/>
<text x="166.6" y="497.46" font-size="9.3" textLength="24.07" lengthAdjust="spacingAndGlyphs">Others</text>
<rect x="311" y="421.75" width="4.1" height="4.1" fill="#4b566c"/>
<text x="319.6" y="426.55" font-size="9.3" textLength="30.31" lengthAdjust="spacingAndGlyphs">C14-Cer</text>
<rect x="311" y="431.88" width="4.1" height="4.1" fill="#a4032c"/>
<text x="319.6" y="436.68" font-size="9.3" textLength="30.31" lengthAdjust="spacingAndGlyphs">C16-Cer</text>
<rect x="311" y="442.01" width="4.1" height="4.1" fill="#68ad3e"/>
<text x="319.6" y="446.81" font-size="9.3" textLength="30.31" lengthAdjust="spacingAndGlyphs">C18-Cer</text>
<rect x="311" y="452.14" width="4.1" height="4.1" fill="#532365"/>
<text x="319.6" y="456.94" font-size="9.3" textLength="30.31" lengthAdjust="spacingAndGlyphs">C22-Cer</text>
<rect x="311" y="462.27" width="4.1" height="4.1" fill="#6aaadf"/>
<text x="319.6" y="467.07" font-size="9.3" textLength="37" lengthAdjust="spacingAndGlyphs">C24:1-Cer</text>
<rect x="311" y="472.4" width="4.1" height="4.1" fill="#e08e1b"/>
<text x="319.6" y="477.2" font-size="9.3" textLength="30.31" lengthAdjust="spacingAndGlyphs">C24-Cer</text>
<rect x="311" y="482.53" width="4.1" height="4.1" fill="#2c4a88"/>
<text x="319.6" y="487.33" font-size="9.3" textLength="37" lengthAdjust="spacingAndGlyphs">C26:1-Cer</text>
<rect x="311" y="492.66" width="4.1" height="4.1" fill="#5e3c17"/>
<text x="319.6" y="497.46" font-size="9.3" textLength="24.07" lengthAdjust="spacingAndGlyphs">Others</text>
<rect x="464" y="421.75" width="4.1" height="4.1" fill="#4b566c"/>
<text x="472.8" y="426.55" font-size="9.3" textLength="30.31" lengthAdjust="spacingAndGlyphs">C14-Cer</text>
<rect x="464" y="431.88" width="4.1" height="4.1" fill="#a4032c"/>
<text x="472.8" y="436.68" font-size="9.3" textLength="30.31" lengthAdjust="spacingAndGlyphs">C16-Cer</text>
<rect x="464" y="442.01" width="4.1" height="4.1" fill="#68ad3e"/>
<text x="472.8" y="446.81" font-size="9.3" textLength="30.31" lengthAdjust="spacingAndGlyphs">C18-Cer</text>
<rect x="464" y="452.14" width="4.1" height="4.1" fill="#532365"/>
<text x="472.8" y="456.94" font-size="9.3" textLength="30.31" lengthAdjust="spacingAndGlyphs">C22-Cer</text>
<rect x="464" y="462.27" width="4.1" height="4.1" fill="#6aaadf"/>
<text x="472.8" y="467.07" font-size="9.3" textLength="37" lengthAdjust="spacingAndGlyphs">C24:1-Cer</text>
<rect x="464" y="472.4" width="4.1" height="4.1" fill="#e08e1b"/>
<text x="472.8" y="477.2" font-size="9.3" textLength="30.31" lengthAdjust="spacingAndGlyphs">C24-Cer</text>
<rect x="464" y="482.53" width="4.1" height="4.1" fill="#2c4a88"/>
<text x="472.8" y="487.33" font-size="9.3" textLength="37" lengthAdjust="spacingAndGlyphs">C26:1-Cer</text>
<rect x="464" y="492.66" width="4.1" height="4.1" fill="#5e3c17"/>
<text x="472.8" y="497.46" font-size="9.3" textLength="24.07" lengthAdjust="spacingAndGlyphs">Others</text>
<text x="11.56" y="534.1" font-size="16.4" font-weight="bold" textLength="8.56" lengthAdjust="spacingAndGlyphs" fill="#000" stroke="#000" stroke-width="0.6">F</text>
<text x="12.5" y="604.4" font-size="12.4" textLength="34.3" lengthAdjust="spacingAndGlyphs">BCP-1</text>
<line x1="11.7" y1="605.6" x2="47.8" y2="605.6" stroke="#222" stroke-width="0.95"/>
<path d="M106.1 601L106.1 554A47 47 0 0 1 110.85 554.24Z" fill="#4b566c" stroke="#4b566c" stroke-width="0.3"/>
<path d="M106.1 601L110.85 554.24A47 47 0 0 1 151.35 588.28Z" fill="#a4032c" stroke="#a4032c" stroke-width="0.3"/>
<path d="M106.1 601L151.35 588.28A47 47 0 0 1 153.06 598.95Z" fill="#68ad3e" stroke="#68ad3e" stroke-width="0.3"/>
<path d="M106.1 601L153.06 598.95A47 47 0 0 1 152.92 605.1Z" fill="#532365" stroke="#532365" stroke-width="0.3"/>
<path d="M106.1 601L152.92 605.1A47 47 0 0 1 127.14 643.03Z" fill="#6aaadf" stroke="#6aaadf" stroke-width="0.3"/>
<path d="M106.1 601L127.14 643.03A47 47 0 0 1 59.45 606.73Z" fill="#e08e1b" stroke="#e08e1b" stroke-width="0.3"/>
<path d="M106.1 601L59.45 606.73A47 47 0 0 1 102.09 554.17Z" fill="#2c4a88" stroke="#2c4a88" stroke-width="0.3"/>
<path d="M106.1 601L102.09 554.17A47 47 0 0 1 106.1 554Z" fill="#5e3c17" stroke="#5e3c17" stroke-width="0.3"/>
<path d="M259.1 601.2L259.1 554.2A47 47 0 0 1 265.56 554.65Z" fill="#4b566c" stroke="#4b566c" stroke-width="0.3"/>
<path d="M259.1 601.2L265.56 554.65A47 47 0 0 1 305.83 606.28Z" fill="#a4032c" stroke="#a4032c" stroke-width="0.3"/>
<path d="M259.1 601.2L305.83 606.28A47 47 0 0 1 296.09 630.2Z" fill="#68ad3e" stroke="#68ad3e" stroke-width="0.3"/>
<path d="M259.1 601.2L296.09 630.2A47 47 0 0 1 284.84 640.53Z" fill="#532365" stroke="#532365" stroke-width="0.3"/>
<path d="M259.1 601.2L284.84 640.53A47 47 0 0 1 233.36 640.53Z" fill="#6aaadf" stroke="#6aaadf" stroke-width="0.3"/>
<path d="M259.1 601.2L233.36 640.53A47 47 0 0 1 227.9 566.05Z" fill="#e08e1b" stroke="#e08e1b" stroke-width="0.3"/>
<path d="M259.1 601.2L227.9 566.05A47 47 0 0 1 256.23 554.29Z" fill="#2c4a88" stroke="#2c4a88" stroke-width="0.3"/>
<path d="M259.1 601.2L256.23 554.29A47 47 0 0 1 259.1 554.2Z" fill="#5e3c17" stroke="#5e3c17" stroke-width="0.3"/>
<path d="M412.4 601L412.4 554A47 47 0 0 1 418.29 554.37Z" fill="#4b566c" stroke="#4b566c" stroke-width="0.3"/>
<path d="M412.4 601L418.29 554.37A47 47 0 0 1 445.63 634.23Z" fill="#a4032c" stroke="#a4032c" stroke-width="0.3"/>
<path d="M412.4 601L445.63 634.23A47 47 0 0 1 430.99 644.17Z" fill="#68ad3e" stroke="#68ad3e" stroke-width="0.3"/>
<path d="M412.4 601L430.99 644.17A47 47 0 0 1 421.93 647.02Z" fill="#532365" stroke="#532365" stroke-width="0.3"/>
<path d="M412.4 601L421.93 647.02A47 47 0 0 1 382.76 637.47Z" fill="#6aaadf" stroke="#6aaadf" stroke-width="0.3"/>
<path d="M412.4 601L382.76 637.47A47 47 0 0 1 372.59 576.02Z" fill="#e08e1b" stroke="#e08e1b" stroke-width="0.3"/>
<path d="M412.4 601L372.59 576.02A47 47 0 0 1 410.6 554.03Z" fill="#2c4a88" stroke="#2c4a88" stroke-width="0.3"/>
<path d="M412.4 601L410.6 554.03A47 47 0 0 1 412.4 554Z" fill="#5e3c17" stroke="#5e3c17" stroke-width="0.3"/>
<text x="106.1" y="547.6" font-size="10.4" text-anchor="middle" textLength="30.3" lengthAdjust="spacingAndGlyphs">Vehicle</text>
<text x="259.5" y="547.6" font-size="10.2" text-anchor="middle" textLength="16" lengthAdjust="spacingAndGlyphs">315</text>
<text x="412.5" y="547.6" font-size="10.2" text-anchor="middle" textLength="16.5" lengthAdjust="spacingAndGlyphs">403</text>
<rect x="158" y="563.15" width="4.1" height="4.1" fill="#4b566c"/>
<text x="166.6" y="567.95" font-size="9.3" textLength="30.31" lengthAdjust="spacingAndGlyphs">C14-Cer</text>
<rect x="158" y="573.28" width="4.1" height="4.1" fill="#a4032c"/>
<text x="166.6" y="578.08" font-size="9.3" textLength="30.31" lengthAdjust="spacingAndGlyphs">C16-Cer</text>
<rect x="158" y="583.41" width="4.1" height="4.1" fill="#68ad3e"/>
<text x="166.6" y="588.21" font-size="9.3" textLength="30.31" lengthAdjust="spacingAndGlyphs">C18-Cer</text>
<rect x="158" y="593.54" width="4.1" height="4.1" fill="#532365"/>
<text x="166.6" y="598.34" font-size="9.3" textLength="30.31" lengthAdjust="spacingAndGlyphs">C20-Cer</text>
<rect x="158" y="603.67" width="4.1" height="4.1" fill="#6aaadf"/>
<text x="166.6" y="608.47" font-size="9.3" textLength="30.31" lengthAdjust="spacingAndGlyphs">C22-Cer</text>
<rect x="158" y="613.8" width="4.1" height="4.1" fill="#e08e1b"/>
<text x="166.6" y="618.6" font-size="9.3" textLength="37" lengthAdjust="spacingAndGlyphs">C24:1-Cer</text>
<rect x="158" y="623.93" width="4.1" height="4.1" fill="#2c4a88"/>
<text x="166.6" y="628.73" font-size="9.3" textLength="30.31" lengthAdjust="spacingAndGlyphs">C24-Cer</text>
<rect x="158" y="634.06" width="4.1" height="4.1" fill="#5e3c17"/>
<text x="166.6" y="638.86" font-size="9.3" textLength="24.07" lengthAdjust="spacingAndGlyphs">Others</text>
<rect x="311" y="563.15" width="4.1" height="4.1" fill="#4b566c"/>
<text x="319.6" y="567.95" font-size="9.3" textLength="30.31" lengthAdjust="spacingAndGlyphs">C14-Cer</text>
<rect x="311" y="573.28" width="4.1" height="4.1" fill="#a4032c"/>
<text x="319.6" y="578.08" font-size="9.3" textLength="30.31" lengthAdjust="spacingAndGlyphs">C16-Cer</text>
<rect x="311" y="583.41" width="4.1" height="4.1" fill="#68ad3e"/>
<text x="319.6" y="588.21" font-size="9.3" textLength="30.31" lengthAdjust="spacingAndGlyphs">C18-Cer</text>
<rect x="311" y="593.54" width="4.1" height="4.1" fill="#532365"/>
<text x="319.6" y="598.34" font-size="9.3" textLength="30.31" lengthAdjust="spacingAndGlyphs">C20-Cer</text>
<rect x="311" y="603.67" width="4.1" height="4.1" fill="#6aaadf"/>
<text x="319.6" y="608.47" font-size="9.3" textLength="30.31" lengthAdjust="spacingAndGlyphs">C22-Cer</text>
<rect x="311" y="613.8" width="4.1" height="4.1" fill="#e08e1b"/>
<text x="319.6" y="618.6" font-size="9.3" textLength="37" lengthAdjust="spacingAndGlyphs">C24:1-Cer</text>
<rect x="311" y="623.93" width="4.1" height="4.1" fill="#2c4a88"/>
<text x="319.6" y="628.73" font-size="9.3" textLength="30.31" lengthAdjust="spacingAndGlyphs">C24-Cer</text>
<rect x="311" y="634.06" width="4.1" height="4.1" fill="#5e3c17"/>
<text x="319.6" y="638.86" font-size="9.3" textLength="24.07" lengthAdjust="spacingAndGlyphs">Others</text>
<rect x="464" y="563.15" width="4.1" height="4.1" fill="#4b566c"/>
<text x="472.7" y="567.95" font-size="9.3" textLength="30.31" lengthAdjust="spacingAndGlyphs">C14-Cer</text>
<rect x="464" y="573.28" width="4.1" height="4.1" fill="#a4032c"/>
<text x="472.7" y="578.08" font-size="9.3" textLength="30.31" lengthAdjust="spacingAndGlyphs">C16-Cer</text>
<rect x="464" y="583.41" width="4.1" height="4.1" fill="#68ad3e"/>
<text x="472.7" y="588.21" font-size="9.3" textLength="30.31" lengthAdjust="spacingAndGlyphs">C18-Cer</text>
<rect x="464" y="593.54" width="4.1" height="4.1" fill="#532365"/>
<text x="472.7" y="598.34" font-size="9.3" textLength="30.31" lengthAdjust="spacingAndGlyphs">C20-Cer</text>
<rect x="464" y="603.67" width="4.1" height="4.1" fill="#6aaadf"/>
<text x="472.7" y="608.47" font-size="9.3" textLength="30.31" lengthAdjust="spacingAndGlyphs">C22-Cer</text>
<rect x="464" y="613.8" width="4.1" height="4.1" fill="#e08e1b"/>
<text x="472.7" y="618.6" font-size="9.3" textLength="37" lengthAdjust="spacingAndGlyphs">C24:1-Cer</text>
<rect x="464" y="623.93" width="4.1" height="4.1" fill="#2c4a88"/>
<text x="472.7" y="628.73" font-size="9.3" textLength="30.31" lengthAdjust="spacingAndGlyphs">C24-Cer</text>
<rect x="464" y="634.06" width="4.1" height="4.1" fill="#5e3c17"/>
<text x="472.7" y="638.86" font-size="9.3" textLength="24.07" lengthAdjust="spacingAndGlyphs">Others</text>
<text x="10.95" y="676.5" font-size="16.4" font-weight="bold" textLength="12.33" lengthAdjust="spacingAndGlyphs" fill="#000" stroke="#000" stroke-width="0.6">G</text>
<text x="73.1" y="783.6" font-size="9.8" text-anchor="end" textLength="5.3" lengthAdjust="spacingAndGlyphs" stroke="#111" stroke-width="0.25">0</text>
<line x1="77.1" y1="780.6" x2="81.9" y2="780.6" stroke="#000" stroke-width="1.1"/>
<text x="73.1" y="768.2" font-size="9.8" text-anchor="end" textLength="5.3" lengthAdjust="spacingAndGlyphs" stroke="#111" stroke-width="0.25">1</text>
<line x1="77.1" y1="765.2" x2="81.9" y2="765.2" stroke="#000" stroke-width="1.1"/>
<text x="73.1" y="752.8" font-size="9.8" text-anchor="end" textLength="5.3" lengthAdjust="spacingAndGlyphs" stroke="#111" stroke-width="0.25">2</text>
<line x1="77.1" y1="749.8" x2="81.9" y2="749.8" stroke="#000" stroke-width="1.1"/>
<text x="73.1" y="737.4" font-size="9.8" text-anchor="end" textLength="5.3" lengthAdjust="spacingAndGlyphs" stroke="#111" stroke-width="0.25">3</text>
<line x1="77.1" y1="734.4" x2="81.9" y2="734.4" stroke="#000" stroke-width="1.1"/>
<text x="73.1" y="722" font-size="9.8" text-anchor="end" textLength="5.3" lengthAdjust="spacingAndGlyphs" stroke="#111" stroke-width="0.25">4</text>
<line x1="77.1" y1="719" x2="81.9" y2="719" stroke="#000" stroke-width="1.1"/>
<text x="73.1" y="706.6" font-size="9.8" text-anchor="end" textLength="5.3" lengthAdjust="spacingAndGlyphs" stroke="#111" stroke-width="0.25">5</text>
<line x1="77.1" y1="703.6" x2="81.9" y2="703.6" stroke="#000" stroke-width="1.1"/>
<rect x="85.68" y="764.4" width="5.45" height="15.93" fill="#a4032c" stroke="#8c0325" stroke-width="0.55"/>
<line x1="88.4" y1="762.58" x2="88.4" y2="764.12" stroke="#c0304f" stroke-width="0.9"/>
<line x1="86.9" y1="762.58" x2="89.9" y2="762.58" stroke="#c0304f" stroke-width="0.9"/>
<rect x="92.98" y="753.92" width="5.45" height="26.4" fill="#2c4a87" stroke="#1f3a70" stroke-width="0.55"/>
<line x1="95.7" y1="748.26" x2="95.7" y2="753.65" stroke="#3a5a9a" stroke-width="0.9"/>
<line x1="94.2" y1="748.26" x2="97.2" y2="748.26" stroke="#3a5a9a" stroke-width="0.9"/>
<circle cx="95.7" cy="744.5" r="0.95" fill="#161616"/>
<rect x="100.28" y="731.6" width="5.45" height="48.73" fill="#68ad3e" stroke="#559a2e" stroke-width="0.55"/>
<line x1="103" y1="717.92" x2="103" y2="731.32" stroke="#8cc46a" stroke-width="0.9"/>
<line x1="101.5" y1="717.92" x2="104.5" y2="717.92" stroke="#8cc46a" stroke-width="0.9"/>
<circle cx="101.7" cy="715" r="0.95" fill="#161616"/>
<circle cx="104.3" cy="715" r="0.95" fill="#161616"/>
<line x1="95.7" y1="780.6" x2="95.7" y2="784.9" stroke="#000" stroke-width="1"/>
<rect x="113.48" y="764.4" width="5.45" height="15.93" fill="#a4032c" stroke="#8c0325" stroke-width="0.55"/>
<line x1="116.2" y1="763.66" x2="116.2" y2="764.12" stroke="#c0304f" stroke-width="0.9"/>
<line x1="114.7" y1="763.66" x2="117.7" y2="763.66" stroke="#c0304f" stroke-width="0.9"/>
<rect x="120.78" y="755.62" width="5.45" height="24.71" fill="#2c4a87" stroke="#1f3a70" stroke-width="0.55"/>
<line x1="123.5" y1="754.57" x2="123.5" y2="755.34" stroke="#3a5a9a" stroke-width="0.9"/>
<line x1="122" y1="754.57" x2="125" y2="754.57" stroke="#3a5a9a" stroke-width="0.9"/>
<circle cx="123.5" cy="750" r="0.95" fill="#161616"/>
<rect x="128.07" y="755.31" width="5.45" height="25.01" fill="#68ad3e" stroke="#559a2e" stroke-width="0.55"/>
<line x1="130.8" y1="754.57" x2="130.8" y2="755.04" stroke="#8cc46a" stroke-width="0.9"/>
<line x1="129.3" y1="754.57" x2="132.3" y2="754.57" stroke="#8cc46a" stroke-width="0.9"/>
<circle cx="130.8" cy="750" r="0.95" fill="#161616"/>
<line x1="123.5" y1="780.6" x2="123.5" y2="784.9" stroke="#000" stroke-width="1"/>
<rect x="141.28" y="764.55" width="5.45" height="15.77" fill="#a4032c" stroke="#8c0325" stroke-width="0.55"/>
<line x1="144" y1="760.43" x2="144" y2="764.28" stroke="#c0304f" stroke-width="0.9"/>
<line x1="142.5" y1="760.43" x2="145.5" y2="760.43" stroke="#c0304f" stroke-width="0.9"/>
<rect x="148.58" y="751.31" width="5.45" height="29.02" fill="#2c4a87" stroke="#1f3a70" stroke-width="0.55"/>
<line x1="151.3" y1="741.48" x2="151.3" y2="751.03" stroke="#3a5a9a" stroke-width="0.9"/>
<line x1="149.8" y1="741.48" x2="152.8" y2="741.48" stroke="#3a5a9a" stroke-width="0.9"/>
<circle cx="151.3" cy="737" r="0.95" fill="#161616"/>
<rect x="155.88" y="746.84" width="5.45" height="33.48" fill="#68ad3e" stroke="#559a2e" stroke-width="0.55"/>
<line x1="158.6" y1="738.25" x2="158.6" y2="746.57" stroke="#8cc46a" stroke-width="0.9"/>
<line x1="157.1" y1="738.25" x2="160.1" y2="738.25" stroke="#8cc46a" stroke-width="0.9"/>
<circle cx="157.3" cy="734" r="0.95" fill="#161616"/>
<circle cx="159.9" cy="734" r="0.95" fill="#161616"/>
<line x1="151.3" y1="780.6" x2="151.3" y2="784.9" stroke="#000" stroke-width="1"/>
<rect x="169.08" y="764.55" width="5.45" height="15.77" fill="#a4032c" stroke="#8c0325" stroke-width="0.55"/>
<line x1="171.8" y1="763.81" x2="171.8" y2="764.28" stroke="#c0304f" stroke-width="0.9"/>
<line x1="170.3" y1="763.81" x2="173.3" y2="763.81" stroke="#c0304f" stroke-width="0.9"/>
<rect x="176.38" y="749" width="5.45" height="31.33" fill="#2c4a87" stroke="#1f3a70" stroke-width="0.55"/>
<line x1="179.1" y1="747.49" x2="179.1" y2="748.72" stroke="#3a5a9a" stroke-width="0.9"/>
<line x1="177.6" y1="747.49" x2="180.6" y2="747.49" stroke="#3a5a9a" stroke-width="0.9"/>
<circle cx="179.1" cy="744.5" r="0.95" fill="#161616"/>
<rect x="183.68" y="718.5" width="5.45" height="61.82" fill="#68ad3e" stroke="#559a2e" stroke-width="0.55"/>
<line x1="186.4" y1="717.46" x2="186.4" y2="718.23" stroke="#8cc46a" stroke-width="0.9"/>
<line x1="184.9" y1="717.46" x2="187.9" y2="717.46" stroke="#8cc46a" stroke-width="0.9"/>
<circle cx="185.1" cy="713.7" r="0.95" fill="#161616"/>
<circle cx="187.7" cy="713.7" r="0.95" fill="#161616"/>
<line x1="179.1" y1="780.6" x2="179.1" y2="784.9" stroke="#000" stroke-width="1"/>
<rect x="196.88" y="764.55" width="5.45" height="15.77" fill="#a4032c" stroke="#8c0325" stroke-width="0.55"/>
<line x1="199.6" y1="763.97" x2="199.6" y2="764.28" stroke="#c0304f" stroke-width="0.9"/>
<line x1="198.1" y1="763.97" x2="201.1" y2="763.97" stroke="#c0304f" stroke-width="0.9"/>
<rect x="204.18" y="755.31" width="5.45" height="25.01" fill="#2c4a87" stroke="#1f3a70" stroke-width="0.55"/>
<line x1="206.9" y1="754.57" x2="206.9" y2="755.04" stroke="#3a5a9a" stroke-width="0.9"/>
<line x1="205.4" y1="754.57" x2="208.4" y2="754.57" stroke="#3a5a9a" stroke-width="0.9"/>
<rect x="211.48" y="755.62" width="5.45" height="24.71" fill="#68ad3e" stroke="#559a2e" stroke-width="0.55"/>
<line x1="214.2" y1="755.04" x2="214.2" y2="755.34" stroke="#8cc46a" stroke-width="0.9"/>
<line x1="212.7" y1="755.04" x2="215.7" y2="755.04" stroke="#8cc46a" stroke-width="0.9"/>
<line x1="206.9" y1="780.6" x2="206.9" y2="784.9" stroke="#000" stroke-width="1"/>
<rect x="224.67" y="764.55" width="5.45" height="15.77" fill="#a4032c" stroke="#8c0325" stroke-width="0.55"/>
<line x1="227.4" y1="763.97" x2="227.4" y2="764.28" stroke="#c0304f" stroke-width="0.9"/>
<line x1="225.9" y1="763.97" x2="228.9" y2="763.97" stroke="#c0304f" stroke-width="0.9"/>
<rect x="231.97" y="763.63" width="5.45" height="16.7" fill="#2c4a87" stroke="#1f3a70" stroke-width="0.55"/>
<line x1="234.7" y1="762.74" x2="234.7" y2="763.35" stroke="#3a5a9a" stroke-width="0.9"/>
<line x1="233.2" y1="762.74" x2="236.2" y2="762.74" stroke="#3a5a9a" stroke-width="0.9"/>
<rect x="239.28" y="766.25" width="5.45" height="14.08" fill="#68ad3e" stroke="#559a2e" stroke-width="0.55"/>
<line x1="242" y1="765.66" x2="242" y2="765.97" stroke="#8cc46a" stroke-width="0.9"/>
<line x1="240.5" y1="765.66" x2="243.5" y2="765.66" stroke="#8cc46a" stroke-width="0.9"/>
<line x1="234.7" y1="780.6" x2="234.7" y2="784.9" stroke="#000" stroke-width="1"/>
<line x1="81.9" y1="699.2" x2="81.9" y2="781.3" stroke="#000" stroke-width="1.5"/>
<line x1="77.1" y1="780.6" x2="249" y2="780.6" stroke="#000" stroke-width="1.5"/>
<text x="99.2" y="793.2" font-size="10.3" text-anchor="end" textLength="25.5" lengthAdjust="spacingAndGlyphs" transform="rotate(-45 99.2 793.2)" stroke="#111" stroke-width="0.25">CerS1</text>
<text x="127" y="793.2" font-size="10.3" text-anchor="end" textLength="25.5" lengthAdjust="spacingAndGlyphs" transform="rotate(-45 127 793.2)" stroke="#111" stroke-width="0.25">CerS2</text>
<text x="154.8" y="793.2" font-size="10.3" text-anchor="end" textLength="25.5" lengthAdjust="spacingAndGlyphs" transform="rotate(-45 154.8 793.2)" stroke="#111" stroke-width="0.25">CerS3</text>
<text x="182.6" y="793.2" font-size="10.3" text-anchor="end" textLength="25.5" lengthAdjust="spacingAndGlyphs" transform="rotate(-45 182.6 793.2)" stroke="#111" stroke-width="0.25">CerS4</text>
<text x="210.4" y="793.2" font-size="10.3" text-anchor="end" textLength="25.5" lengthAdjust="spacingAndGlyphs" transform="rotate(-45 210.4 793.2)" stroke="#111" stroke-width="0.25">CerS5</text>
<text x="238.2" y="793.2" font-size="10.3" text-anchor="end" textLength="25.5" lengthAdjust="spacingAndGlyphs" transform="rotate(-45 238.2 793.2)" stroke="#111" stroke-width="0.25">CerS6</text>
<text x="144.2" y="691.3" font-size="12" textLength="42.5" lengthAdjust="spacingAndGlyphs" stroke="#111" stroke-width="0.08">BCBL-1</text>
<line x1="143.2" y1="693.3" x2="187.7" y2="693.3" stroke="#222" stroke-width="0.95"/>
<rect x="208.8" y="700.25" width="10" height="5.6" fill="#a4032c"/>
<text x="223.7" y="705.85" font-size="8.6" textLength="25.8" lengthAdjust="spacingAndGlyphs" stroke="#111" stroke-width="0.08">Vehicle</text>
<rect x="208.8" y="708.97" width="10" height="5.6" fill="#2c4a87"/>
<text x="223.7" y="714.57" font-size="8.6" textLength="13.3" lengthAdjust="spacingAndGlyphs" stroke="#111" stroke-width="0.08">315</text>
<rect x="208.8" y="717.69" width="10" height="5.6" fill="#68ad3e"/>
<text x="223.7" y="723.29" font-size="8.6" textLength="13.8" lengthAdjust="spacingAndGlyphs" stroke="#111" stroke-width="0.08">403</text>
<text x="59.6" y="740" font-size="11.8" text-anchor="middle" textLength="73.5" lengthAdjust="spacingAndGlyphs" transform="rotate(-90 59.6 740)" stroke="#111" stroke-width="0.25">Folds expression</text>
<text x="296.4" y="783.7" font-size="9.8" text-anchor="end" textLength="5.3" lengthAdjust="spacingAndGlyphs" stroke="#111" stroke-width="0.25">0</text>
<line x1="300.4" y1="780.7" x2="305.2" y2="780.7" stroke="#000" stroke-width="1.1"/>
<text x="296.4" y="765.2" font-size="9.8" text-anchor="end" textLength="5.3" lengthAdjust="spacingAndGlyphs" stroke="#111" stroke-width="0.25">1</text>
<line x1="300.4" y1="762.2" x2="305.2" y2="762.2" stroke="#000" stroke-width="1.1"/>
<text x="296.4" y="746.7" font-size="9.8" text-anchor="end" textLength="5.3" lengthAdjust="spacingAndGlyphs" stroke="#111" stroke-width="0.25">2</text>
<line x1="300.4" y1="743.7" x2="305.2" y2="743.7" stroke="#000" stroke-width="1.1"/>
<text x="296.4" y="728.2" font-size="9.8" text-anchor="end" textLength="5.3" lengthAdjust="spacingAndGlyphs" stroke="#111" stroke-width="0.25">3</text>
<line x1="300.4" y1="725.2" x2="305.2" y2="725.2" stroke="#000" stroke-width="1.1"/>
<text x="296.4" y="709.7" font-size="9.8" text-anchor="end" textLength="5.3" lengthAdjust="spacingAndGlyphs" stroke="#111" stroke-width="0.25">4</text>
<line x1="300.4" y1="706.7" x2="305.2" y2="706.7" stroke="#000" stroke-width="1.1"/>
<rect x="308.57" y="762.11" width="5.45" height="18.32" fill="#a4032c" stroke="#8c0325" stroke-width="0.55"/>
<line x1="311.3" y1="760.54" x2="311.3" y2="761.83" stroke="#c0304f" stroke-width="0.9"/>
<line x1="309.8" y1="760.54" x2="312.8" y2="760.54" stroke="#c0304f" stroke-width="0.9"/>
<rect x="315.88" y="759.51" width="5.45" height="20.91" fill="#2c4a87" stroke="#1f3a70" stroke-width="0.55"/>
<line x1="318.6" y1="752.21" x2="318.6" y2="759.24" stroke="#3a5a9a" stroke-width="0.9"/>
<line x1="317.1" y1="752.21" x2="320.1" y2="752.21" stroke="#3a5a9a" stroke-width="0.9"/>
<circle cx="318.6" cy="748.3" r="0.95" fill="#161616"/>
<rect x="323.18" y="758.03" width="5.45" height="22.39" fill="#68ad3e" stroke="#559a2e" stroke-width="0.55"/>
<line x1="325.9" y1="754.06" x2="325.9" y2="757.76" stroke="#8cc46a" stroke-width="0.9"/>
<line x1="324.4" y1="754.06" x2="327.4" y2="754.06" stroke="#8cc46a" stroke-width="0.9"/>
<circle cx="325.9" cy="749.9" r="0.95" fill="#161616"/>
<line x1="318.6" y1="780.7" x2="318.6" y2="785" stroke="#000" stroke-width="1"/>
<rect x="336.35" y="761.92" width="5.45" height="18.5" fill="#a4032c" stroke="#8c0325" stroke-width="0.55"/>
<line x1="339.08" y1="761.28" x2="339.08" y2="761.65" stroke="#c0304f" stroke-width="0.9"/>
<line x1="337.58" y1="761.28" x2="340.58" y2="761.28" stroke="#c0304f" stroke-width="0.9"/>
<rect x="343.65" y="745.83" width="5.45" height="34.6" fill="#2c4a87" stroke="#1f3a70" stroke-width="0.55"/>
<line x1="346.38" y1="743.33" x2="346.38" y2="745.55" stroke="#3a5a9a" stroke-width="0.9"/>
<line x1="344.88" y1="743.33" x2="347.88" y2="743.33" stroke="#3a5a9a" stroke-width="0.9"/>
<circle cx="346.38" cy="739.5" r="0.95" fill="#161616"/>
<rect x="350.95" y="758.77" width="5.45" height="21.65" fill="#68ad3e" stroke="#559a2e" stroke-width="0.55"/>
<line x1="353.68" y1="758.13" x2="353.68" y2="758.5" stroke="#8cc46a" stroke-width="0.9"/>
<line x1="352.18" y1="758.13" x2="355.18" y2="758.13" stroke="#8cc46a" stroke-width="0.9"/>
<line x1="346.38" y1="780.7" x2="346.38" y2="785" stroke="#000" stroke-width="1"/>
<rect x="364.13" y="762.29" width="5.45" height="18.13" fill="#a4032c" stroke="#8c0325" stroke-width="0.55"/>
<line x1="366.86" y1="757.39" x2="366.86" y2="762.02" stroke="#c0304f" stroke-width="0.9"/>
<line x1="365.36" y1="757.39" x2="368.36" y2="757.39" stroke="#c0304f" stroke-width="0.9"/>
<rect x="371.44" y="731.76" width="5.45" height="48.66" fill="#2c4a87" stroke="#1f3a70" stroke-width="0.55"/>
<line x1="374.16" y1="726.5" x2="374.16" y2="731.49" stroke="#3a5a9a" stroke-width="0.9"/>
<line x1="372.66" y1="726.5" x2="375.66" y2="726.5" stroke="#3a5a9a" stroke-width="0.9"/>
<circle cx="372.86" cy="722.2" r="0.95" fill="#161616"/>
<circle cx="375.46" cy="722.2" r="0.95" fill="#161616"/>
<rect x="378.74" y="756.56" width="5.45" height="23.87" fill="#68ad3e" stroke="#559a2e" stroke-width="0.55"/>
<line x1="381.46" y1="754.06" x2="381.46" y2="756.28" stroke="#8cc46a" stroke-width="0.9"/>
<line x1="379.96" y1="754.06" x2="382.96" y2="754.06" stroke="#8cc46a" stroke-width="0.9"/>
<line x1="374.16" y1="780.7" x2="374.16" y2="785" stroke="#000" stroke-width="1"/>
<rect x="391.92" y="761.55" width="5.45" height="18.87" fill="#a4032c" stroke="#8c0325" stroke-width="0.55"/>
<line x1="394.64" y1="760.91" x2="394.64" y2="761.28" stroke="#c0304f" stroke-width="0.9"/>
<line x1="393.14" y1="760.91" x2="396.14" y2="760.91" stroke="#c0304f" stroke-width="0.9"/>
<rect x="399.22" y="718.08" width="5.45" height="62.35" fill="#2c4a87" stroke="#1f3a70" stroke-width="0.55"/>
<line x1="401.94" y1="714.66" x2="401.94" y2="717.8" stroke="#3a5a9a" stroke-width="0.9"/>
<line x1="400.44" y1="714.66" x2="403.44" y2="714.66" stroke="#3a5a9a" stroke-width="0.9"/>
<circle cx="400.64" cy="710.7" r="0.95" fill="#161616"/>
<circle cx="403.24" cy="710.7" r="0.95" fill="#161616"/>
<rect x="406.52" y="751.38" width="5.45" height="29.05" fill="#68ad3e" stroke="#559a2e" stroke-width="0.55"/>
<line x1="409.24" y1="750.18" x2="409.24" y2="751.1" stroke="#8cc46a" stroke-width="0.9"/>
<line x1="407.74" y1="750.18" x2="410.74" y2="750.18" stroke="#8cc46a" stroke-width="0.9"/>
<circle cx="409.24" cy="746.9" r="0.95" fill="#161616"/>
<line x1="401.94" y1="780.7" x2="401.94" y2="785" stroke="#000" stroke-width="1"/>
<rect x="419.69" y="761.55" width="5.45" height="18.87" fill="#a4032c" stroke="#8c0325" stroke-width="0.55"/>
<line x1="422.42" y1="760.91" x2="422.42" y2="761.28" stroke="#c0304f" stroke-width="0.9"/>
<line x1="420.92" y1="760.91" x2="423.92" y2="760.91" stroke="#c0304f" stroke-width="0.9"/>
<rect x="427" y="744.72" width="5.45" height="35.71" fill="#2c4a87" stroke="#1f3a70" stroke-width="0.55"/>
<line x1="429.72" y1="742.59" x2="429.72" y2="744.44" stroke="#3a5a9a" stroke-width="0.9"/>
<line x1="428.22" y1="742.59" x2="431.22" y2="742.59" stroke="#3a5a9a" stroke-width="0.9"/>
<circle cx="429.72" cy="738.4" r="0.95" fill="#161616"/>
<rect x="434.3" y="760.62" width="5.45" height="19.8" fill="#68ad3e" stroke="#559a2e" stroke-width="0.55"/>
<line x1="437.02" y1="759.98" x2="437.02" y2="760.35" stroke="#8cc46a" stroke-width="0.9"/>
<line x1="435.52" y1="759.98" x2="438.52" y2="759.98" stroke="#8cc46a" stroke-width="0.9"/>
<line x1="429.72" y1="780.7" x2="429.72" y2="785" stroke="#000" stroke-width="1"/>
<rect x="447.47" y="761.55" width="5.45" height="18.87" fill="#a4032c" stroke="#8c0325" stroke-width="0.55"/>
<line x1="450.2" y1="760.91" x2="450.2" y2="761.28" stroke="#c0304f" stroke-width="0.9"/>
<line x1="448.7" y1="760.91" x2="451.7" y2="760.91" stroke="#c0304f" stroke-width="0.9"/>
<rect x="454.77" y="753.04" width="5.45" height="27.38" fill="#2c4a87" stroke="#1f3a70" stroke-width="0.55"/>
<line x1="457.5" y1="751.84" x2="457.5" y2="752.77" stroke="#3a5a9a" stroke-width="0.9"/>
<line x1="456" y1="751.84" x2="459" y2="751.84" stroke="#3a5a9a" stroke-width="0.9"/>
<rect x="462.07" y="762.48" width="5.45" height="17.95" fill="#68ad3e" stroke="#559a2e" stroke-width="0.55"/>
<line x1="464.8" y1="761.83" x2="464.8" y2="762.2" stroke="#8cc46a" stroke-width="0.9"/>
<line x1="463.3" y1="761.83" x2="466.3" y2="761.83" stroke="#8cc46a" stroke-width="0.9"/>
<line x1="457.5" y1="780.7" x2="457.5" y2="785" stroke="#000" stroke-width="1"/>
<line x1="305.2" y1="702" x2="305.2" y2="781.4" stroke="#000" stroke-width="1.5"/>
<line x1="300.4" y1="780.7" x2="472.4" y2="780.7" stroke="#000" stroke-width="1.5"/>
<text x="322.1" y="793.3" font-size="10.3" text-anchor="end" textLength="25.5" lengthAdjust="spacingAndGlyphs" transform="rotate(-45 322.1 793.3)" stroke="#111" stroke-width="0.25">CerS1</text>
<text x="349.88" y="793.3" font-size="10.3" text-anchor="end" textLength="25.5" lengthAdjust="spacingAndGlyphs" transform="rotate(-45 349.88 793.3)" stroke="#111" stroke-width="0.25">CerS2</text>
<text x="377.66" y="793.3" font-size="10.3" text-anchor="end" textLength="25.5" lengthAdjust="spacingAndGlyphs" transform="rotate(-45 377.66 793.3)" stroke="#111" stroke-width="0.25">CerS3</text>
<text x="405.44" y="793.3" font-size="10.3" text-anchor="end" textLength="25.5" lengthAdjust="spacingAndGlyphs" transform="rotate(-45 405.44 793.3)" stroke="#111" stroke-width="0.25">CerS4</text>
<text x="433.22" y="793.3" font-size="10.3" text-anchor="end" textLength="25.5" lengthAdjust="spacingAndGlyphs" transform="rotate(-45 433.22 793.3)" stroke="#111" stroke-width="0.25">CerS5</text>
<text x="461" y="793.3" font-size="10.3" text-anchor="end" textLength="25.5" lengthAdjust="spacingAndGlyphs" transform="rotate(-45 461 793.3)" stroke="#111" stroke-width="0.25">CerS6</text>
<text x="371.1" y="691.3" font-size="12" textLength="35.2" lengthAdjust="spacingAndGlyphs" stroke="#111" stroke-width="0.08">BCP-1</text>
<line x1="370.1" y1="693.3" x2="407.3" y2="693.3" stroke="#222" stroke-width="0.95"/>
<rect x="432.1" y="700.25" width="10" height="5.6" fill="#a4032c"/>
<text x="447" y="705.85" font-size="8.6" textLength="25.8" lengthAdjust="spacingAndGlyphs" stroke="#111" stroke-width="0.08">Vehicle</text>
<rect x="432.1" y="708.97" width="10" height="5.6" fill="#2c4a87"/>
<text x="447" y="714.57" font-size="8.6" textLength="13.3" lengthAdjust="spacingAndGlyphs" stroke="#111" stroke-width="0.08">315</text>
<rect x="432.1" y="717.69" width="10" height="5.6" fill="#68ad3e"/>
<text x="447" y="723.29" font-size="8.6" textLength="13.8" lengthAdjust="spacingAndGlyphs" stroke="#111" stroke-width="0.08">403</text>
<text x="282.3" y="740" font-size="11.8" text-anchor="middle" textLength="73.5" lengthAdjust="spacingAndGlyphs" transform="rotate(-90 282.3 740)" stroke="#111" stroke-width="0.25">Folds expression</text>
<text x="11.18" y="842.7" font-size="16.4" font-weight="bold" textLength="12.03" lengthAdjust="spacingAndGlyphs" fill="#000" stroke="#000" stroke-width="0.6">H</text>
<text x="17.3" y="862.4" font-size="12.3" textLength="41.9" lengthAdjust="spacingAndGlyphs" stroke="#111" stroke-width="0.1">BCBL-1</text>
<line x1="16.3" y1="864.1" x2="60.2" y2="864.1" stroke="#222" stroke-width="0.95"/>
<text x="123.1" y="862.2" font-size="12.3" textLength="35" lengthAdjust="spacingAndGlyphs" stroke="#111" stroke-width="0.1">BCP-1</text>
<line x1="122.1" y1="864.1" x2="159.1" y2="864.1" stroke="#222" stroke-width="0.95"/>
<rect x="11.7" y="902.2" width="53.1" height="11.4" fill="#c9c9c9"/>
<rect x="12.9" y="906.9" width="13.8" height="2.6" rx="4.14" ry="1.3" fill="#0e0e0e" filter="url(#bl)"/>
<rect x="29" y="906.8" width="17" height="2" rx="5.1" ry="1" fill="#b6b6b6" filter="url(#bl2)"/>
<rect x="48.7" y="906.3" width="14.4" height="2" rx="4.32" ry="1" fill="#1e1e1e" filter="url(#bl)"/>
<rect x="11.7" y="916.6" width="53.1" height="12.5" fill="#bdbdbd"/>
<rect x="12.9" y="922.2" width="12.7" height="3.6" rx="3.81" ry="1.8" fill="#070707" filter="url(#bl)"/>
<rect x="29" y="921.8" width="16.8" height="2.2" rx="5.04" ry="1.1" fill="#888888" filter="url(#bl2)"/>
<rect x="50.6" y="922.1" width="13.2" height="3" rx="3.96" ry="1.5" fill="#1a1a1a" filter="url(#bl)"/>
<rect x="11.7" y="932.6" width="53.1" height="11.6" fill="#bebebe"/>
<g filter="url(#bl3)"><rect x="13.2" y="933.6" width="12.4" height="10" rx="1.5" fill="#222222"/><rect x="19.77" y="934.24" width="2.31" height="1.18" fill="#252525"/><rect x="18.27" y="933.93" width="2.41" height="1.07" fill="#1d1d1d"/><rect x="17.75" y="940.95" width="1.67" height="1.11" fill="#010101"/><rect x="23" y="938.36" width="2.06" height="1.75" fill="#191919"/><rect x="20.46" y="936.19" width="3.94" height="1.06" fill="#020202"/><rect x="21.86" y="935.16" width="1.79" height="1.37" fill="#292929"/><rect x="18.3" y="934.14" width="3.1" height="1.45" fill="#000000"/><rect x="17.64" y="936.17" width="2.01" height="1.82" fill="#292929"/><rect x="20.96" y="939.64" width="2.63" height="1.36" fill="#0b0b0b"/><rect x="21.48" y="939.71" width="2.94" height="1.63" fill="#0f0f0f"/><rect x="16.73" y="940.31" width="3.95" height="1.14" fill="#030303"/><rect x="19.67" y="940.45" width="2.72" height="1.05" fill="#282828"/><rect x="19.26" y="938.73" width="3.69" height="1.38" fill="#292929"/><rect x="22.42" y="937.39" width="2.64" height="2.01" fill="#303030"/><rect x="20.16" y="941.7" width="1.65" height="1.84" fill="#3e3e3e"/><rect x="20.01" y="933.79" width="2.21" height="1.46" fill="#1f1f1f"/><rect x="13.82" y="940.41" width="1.92" height="1.14" fill="#010101"/><rect x="22.16" y="934.29" width="2.12" height="1.47" fill="#1e1e1e"/><rect x="21" y="940.46" width="2.87" height="2.06" fill="#0f0f0f"/><rect x="21.92" y="941.81" width="2.54" height="1.43" fill="#030303"/><rect x="15.64" y="937.83" width="1.94" height="1.28" fill="#2a2a2a"/><rect x="17.49" y="936.92" width="2.16" height="1" fill="#272727"/><rect x="17.59" y="938.65" width="3.88" height="1.83" fill="#313131"/><rect x="21.6" y="940.53" width="1.63" height="2.08" fill="#3c3c3c"/><rect x="14.23" y="939" width="2.48" height="1.48" fill="#000000"/><rect x="14.94" y="936.58" width="1.67" height="1.25" fill="#000000"/><rect x="14.31" y="936.81" width="1.5" height="1.18" fill="#000000"/><rect x="14.49" y="935.68" width="3.69" height="1.74" fill="#151515"/><rect x="21.68" y="942.39" width="2.41" height="1.15" fill="#1f1f1f"/><rect x="14.19" y="936.65" width="2.71" height="1.1" fill="#0d0d0d"/><rect x="13.4" y="941.97" width="3.57" height="1.19" fill="#242424"/><rect x="13.48" y="938.01" width="1.87" height="1.65" fill="#4d4d4d"/><rect x="15.48" y="936.59" width="3.66" height="1.84" fill="#050505"/><rect x="20.19" y="936.36" width="3.43" height="1.64" fill="#0a0a0a"/><rect x="20.76" y="939.9" width="3.53" height="2.18" fill="#3e3e3e"/></g>
<g filter="url(#bl3)"><rect x="27.5" y="933.8" width="21.7" height="9.6" rx="1.5" fill="#adadad"/><rect x="37" y="936.76" width="3.35" height="1.27" fill="#a0a0a0"/><rect x="32.72" y="939.52" width="1.57" height="1.34" fill="#b9b9b9"/><rect x="46.35" y="940.94" width="2.62" height="2.12" fill="#aaaaaa"/><rect x="31.37" y="935.5" width="2.05" height="1.27" fill="#b0b0b0"/><rect x="36.11" y="938.76" width="3.75" height="2.01" fill="#b5b5b5"/><rect x="45.68" y="939.91" width="1.71" height="1.79" fill="#b4b4b4"/><rect x="42.5" y="936.59" width="2.7" height="1.21" fill="#b5b5b5"/><rect x="34.63" y="941.49" width="3.93" height="1.48" fill="#b3b3b3"/><rect x="30.49" y="941.44" width="1.93" height="1.15" fill="#b5b5b5"/><rect x="46.94" y="938.8" width="1.87" height="1.99" fill="#a9a9a9"/><rect x="27.77" y="942" width="2.87" height="1.16" fill="#b1b1b1"/><rect x="35.69" y="940.32" width="2.82" height="2.12" fill="#b6b6b6"/><rect x="33.26" y="935.8" width="2.03" height="1.3" fill="#afafaf"/><rect x="30.06" y="941.17" width="2.15" height="1.5" fill="#a9a9a9"/><rect x="44.73" y="937.12" width="2.65" height="1.7" fill="#b8b8b8"/><rect x="37.42" y="933.95" width="2.75" height="1.64" fill="#acacac"/><rect x="43.28" y="935.28" width="1.96" height="1" fill="#adadad"/><rect x="33.49" y="937.91" width="3.31" height="1.67" fill="#aeaeae"/><rect x="37.72" y="935.91" width="3.46" height="1.13" fill="#a7a7a7"/><rect x="37.76" y="939.87" width="3.43" height="1.61" fill="#b8b8b8"/><rect x="37.15" y="937.83" width="2.61" height="1.74" fill="#b2b2b2"/><rect x="36.62" y="941.29" width="2.63" height="1.64" fill="#b2b2b2"/><rect x="32.17" y="937.98" width="3.69" height="2.13" fill="#b9b9b9"/><rect x="29.7" y="937.53" width="3.6" height="1.16" fill="#a2a2a2"/><rect x="40.62" y="940.47" width="2.1" height="1.09" fill="#b8b8b8"/><rect x="40.58" y="934.91" width="1.89" height="1.86" fill="#b7b7b7"/><rect x="44.44" y="937.12" width="3.92" height="1.26" fill="#adadad"/><rect x="30.36" y="937.08" width="3.97" height="2" fill="#adadad"/><rect x="33.66" y="939.84" width="2.35" height="1.23" fill="#a0a0a0"/><rect x="27.84" y="936.48" width="2.89" height="1.53" fill="#b0b0b0"/><rect x="46.14" y="940.52" width="2.78" height="1.08" fill="#bababa"/><rect x="28.29" y="940.25" width="1.76" height="1.32" fill="#a7a7a7"/><rect x="45.62" y="940.43" width="1.82" height="1.51" fill="#a7a7a7"/><rect x="38.81" y="939.05" width="1.87" height="2.1" fill="#a2a2a2"/><rect x="36.03" y="934.36" width="1.64" height="1.83" fill="#b9b9b9"/><rect x="29.06" y="940.34" width="3.09" height="1.96" fill="#a1a1a1"/><rect x="33.62" y="938.26" width="3.66" height="1.54" fill="#b8b8b8"/><rect x="37.79" y="935.81" width="2.17" height="1.16" fill="#a3a3a3"/><rect x="31.49" y="936.46" width="1.9" height="1.06" fill="#a8a8a8"/><rect x="36.65" y="935.27" width="3.4" height="1.35" fill="#a9a9a9"/></g>
<g filter="url(#bl3)"><rect x="51" y="933.6" width="13.2" height="10" rx="1.5" fill="#4c4c4c"/><rect x="51.18" y="939.98" width="1.55" height="1.3" fill="#505050"/><rect x="61.49" y="934.5" width="1.97" height="1.57" fill="#686868"/><rect x="59.86" y="936.9" width="2.58" height="1.59" fill="#4c4c4c"/><rect x="54.42" y="940.11" width="3.22" height="2.18" fill="#5e5e5e"/><rect x="54.51" y="934.06" width="3.09" height="1.49" fill="#2b2b2b"/><rect x="53.95" y="934.92" width="1.68" height="1.89" fill="#272727"/><rect x="57.44" y="935.84" width="3.6" height="2.04" fill="#353535"/><rect x="52.73" y="937.37" width="2.23" height="1.55" fill="#373737"/><rect x="56.09" y="935.51" width="3.9" height="2.17" fill="#757575"/><rect x="51.01" y="936.87" width="2.27" height="1.43" fill="#4a4a4a"/><rect x="56.27" y="933.64" width="2.76" height="1.24" fill="#373737"/><rect x="51.48" y="933.79" width="1.72" height="1.48" fill="#3b3b3b"/><rect x="56.88" y="939.83" width="2.08" height="1.7" fill="#5a5a5a"/><rect x="54.86" y="936.19" width="3.29" height="2.05" fill="#777777"/><rect x="58.29" y="933.96" width="1.87" height="1.87" fill="#6a6a6a"/><rect x="57.95" y="940.3" width="3.73" height="1.75" fill="#2c2c2c"/><rect x="59.68" y="940.36" width="2.81" height="1.61" fill="#696969"/><rect x="57.99" y="939.1" width="2.96" height="2.07" fill="#343434"/><rect x="55.19" y="934.53" width="1.58" height="1.16" fill="#6a6a6a"/><rect x="57.45" y="939.21" width="2.9" height="1.75" fill="#4c4c4c"/><rect x="59.75" y="937.65" width="1.51" height="1.96" fill="#4f4f4f"/><rect x="58.41" y="935.85" width="3.15" height="1.08" fill="#262626"/><rect x="53.26" y="939.61" width="2.16" height="1.88" fill="#767676"/><rect x="56.01" y="939.44" width="2.73" height="1.46" fill="#646464"/><rect x="51.79" y="934.81" width="3.04" height="1.77" fill="#363636"/><rect x="56.59" y="933.71" width="3.36" height="1.37" fill="#252525"/><rect x="58.63" y="939.14" width="2.17" height="1.81" fill="#3a3a3a"/><rect x="55.85" y="934.6" width="2.79" height="1.56" fill="#6f6f6f"/><rect x="61.49" y="933.74" width="2" height="2.17" fill="#494949"/><rect x="55.34" y="935.71" width="3.55" height="2.16" fill="#323232"/><rect x="56.43" y="934.84" width="3.86" height="1.25" fill="#4e4e4e"/><rect x="58.64" y="938.1" width="3.88" height="1.16" fill="#6e6e6e"/><rect x="59.92" y="937.84" width="3.26" height="1.28" fill="#222222"/><rect x="56.27" y="936.14" width="1.51" height="1.59" fill="#2c2c2c"/><rect x="60.11" y="933.62" width="2.36" height="1.38" fill="#626262"/></g>
<rect x="11.7" y="947.2" width="53.1" height="13.4" fill="#c6c6c6"/>
<rect x="12.9" y="951.5" width="14.4" height="5.6" rx="2.8" fill="#050505" filter="url(#bl)"/>
<rect x="29.8" y="951.6" width="17.4" height="4.6" rx="2.3" fill="#060606" filter="url(#bl)"/>
<rect x="49.2" y="951.6" width="14.5" height="5.4" rx="2.7" fill="#050505" filter="url(#bl)"/>
<rect x="114.4" y="902.1" width="53.5" height="11.2" fill="#c6c6c6"/>
<rect x="115.2" y="905.9" width="15" height="3" rx="4.5" ry="1.5" fill="#0a0a0a" filter="url(#bl)"/>
<rect x="133.6" y="906.8" width="14.7" height="1.8" rx="4.41" ry="0.9" fill="#2e2e2e" filter="url(#bl)"/>
<rect x="151.2" y="906.5" width="15" height="2.2" rx="4.5" ry="1.1" fill="#1e1e1e" filter="url(#bl)"/>
<rect x="114.4" y="916.8" width="53.5" height="11.8" fill="#bfbfbf"/>
<rect x="115.6" y="922.1" width="14.4" height="2.8" rx="4.32" ry="1.4" fill="#0c0c0c" filter="url(#bl)"/>
<rect x="133.4" y="921.9" width="15" height="2.2" rx="4.5" ry="1.1" fill="#1c1c1c" filter="url(#bl)"/>
<rect x="151.4" y="921.9" width="14.8" height="2.2" rx="4.44" ry="1.1" fill="#222222" filter="url(#bl)"/>
<rect x="114.4" y="931.6" width="53.5" height="11.3" fill="#bcbcbc"/>
<g filter="url(#bl3)"><rect x="115.4" y="932.4" width="13.8" height="10" rx="1.5" fill="#202020"/><rect x="124.85" y="938.71" width="3.6" height="1.14" fill="#444444"/><rect x="119.95" y="940.94" width="2.22" height="1.45" fill="#282828"/><rect x="118.54" y="932.81" width="2.4" height="1.51" fill="#000000"/><rect x="124.96" y="934.56" width="3.59" height="1.34" fill="#0b0b0b"/><rect x="119.52" y="940.79" width="2.78" height="1.23" fill="#424242"/><rect x="124.78" y="940.15" width="3.53" height="1.76" fill="#242424"/><rect x="123.09" y="936.43" width="3.3" height="1.06" fill="#363636"/><rect x="115.92" y="940.42" width="3.11" height="1.34" fill="#000000"/><rect x="118.71" y="938.75" width="2.68" height="1.41" fill="#4a4a4a"/><rect x="118.9" y="936.98" width="2.15" height="1.79" fill="#171717"/><rect x="117.87" y="940.38" width="1.92" height="1.19" fill="#202020"/><rect x="127.11" y="935.96" width="2.05" height="2.09" fill="#000000"/><rect x="119.44" y="933.21" width="1.98" height="1.11" fill="#090909"/><rect x="125.74" y="938.63" width="2.15" height="1.68" fill="#191919"/><rect x="119.65" y="935.23" width="2.53" height="1.63" fill="#000000"/><rect x="116.86" y="936.35" width="2.19" height="2.16" fill="#2b2b2b"/><rect x="118.15" y="934.57" width="3.66" height="1.26" fill="#171717"/><rect x="124.89" y="939.26" width="2.61" height="2.14" fill="#000000"/><rect x="126.34" y="936.26" width="1.58" height="1.85" fill="#272727"/><rect x="126.8" y="939.44" width="1.5" height="1.47" fill="#3f3f3f"/><rect x="116.48" y="933.74" width="3.93" height="1.3" fill="#222222"/><rect x="123.05" y="937.49" width="3.21" height="2.13" fill="#373737"/><rect x="115.84" y="938.92" width="2.64" height="1.66" fill="#080808"/><rect x="118.44" y="933.45" width="3.8" height="1.77" fill="#0a0a0a"/><rect x="116.6" y="932.97" width="3.09" height="1.84" fill="#222222"/><rect x="117.82" y="937.53" width="2.96" height="1.47" fill="#000000"/><rect x="126.47" y="937.84" width="2.25" height="1.55" fill="#424242"/><rect x="118.15" y="940.77" width="2.69" height="1.28" fill="#323232"/><rect x="121.15" y="938.45" width="2.27" height="1.03" fill="#191919"/><rect x="126.18" y="934.26" width="2.14" height="1.8" fill="#000000"/><rect x="123.22" y="934.08" width="2.35" height="1.5" fill="#3a3a3a"/><rect x="117.54" y="940.54" width="3.35" height="1.61" fill="#101010"/><rect x="117.67" y="939.03" width="3.55" height="1.28" fill="#0e0e0e"/><rect x="117.26" y="934.28" width="3.88" height="1.59" fill="#191919"/><rect x="116.96" y="935.49" width="3.16" height="2.14" fill="#070707"/></g>
<g filter="url(#bl3)"><rect x="130.8" y="932.6" width="20.2" height="9.6" rx="1.5" fill="#9c9c9c"/><rect x="131.64" y="933.11" width="3.94" height="1.17" fill="#979797"/><rect x="142.86" y="940.12" width="3.75" height="2.06" fill="#b2b2b2"/><rect x="147.53" y="938.85" width="2.32" height="1.22" fill="#848484"/><rect x="137.17" y="935.3" width="3.16" height="1.45" fill="#8b8b8b"/><rect x="137.37" y="940.5" width="1.51" height="1.34" fill="#898989"/><rect x="136.61" y="939.46" width="3.91" height="1.25" fill="#acacac"/><rect x="139.14" y="935.78" width="2.58" height="1.06" fill="#b1b1b1"/><rect x="147.14" y="932.85" width="1.98" height="1.44" fill="#989898"/><rect x="131.48" y="932.87" width="3.53" height="1.92" fill="#868686"/><rect x="143.06" y="940.05" width="3.8" height="1.31" fill="#949494"/><rect x="141.92" y="934.55" width="2.18" height="2.15" fill="#a7a7a7"/><rect x="130.87" y="938.85" width="2.29" height="1.33" fill="#b1b1b1"/><rect x="131.22" y="934.35" width="3.08" height="2.13" fill="#9b9b9b"/><rect x="137.1" y="934.47" width="3.89" height="2.14" fill="#999999"/><rect x="134" y="938.61" width="2.73" height="2.11" fill="#a8a8a8"/><rect x="140.91" y="935.12" width="3.56" height="1.93" fill="#939393"/><rect x="132.21" y="934.11" width="2.4" height="1.94" fill="#a9a9a9"/><rect x="131.41" y="937.31" width="2.12" height="1.08" fill="#939393"/><rect x="146.85" y="934.6" width="3.95" height="2.06" fill="#878787"/><rect x="143.9" y="936.18" width="1.74" height="1.6" fill="#8f8f8f"/><rect x="142.7" y="938.48" width="2.54" height="1.74" fill="#aeaeae"/><rect x="145.13" y="935.08" width="3.16" height="1.15" fill="#9f9f9f"/><rect x="134.34" y="934.51" width="2.43" height="1.89" fill="#8f8f8f"/><rect x="141.39" y="935.06" width="1.88" height="2.06" fill="#979797"/><rect x="134.55" y="939.06" width="3.98" height="1.61" fill="#a3a3a3"/><rect x="138.5" y="939.54" width="3.98" height="1.12" fill="#adadad"/><rect x="135.62" y="933.62" width="3.79" height="1.05" fill="#8c8c8c"/><rect x="145.93" y="935.54" width="3.93" height="1.7" fill="#afafaf"/><rect x="144.47" y="940.44" width="2.62" height="1.31" fill="#888888"/><rect x="134.55" y="935.5" width="2.99" height="1.74" fill="#8a8a8a"/><rect x="141.7" y="938" width="2.01" height="1.31" fill="#8d8d8d"/><rect x="143.47" y="934.12" width="1.53" height="1.39" fill="#939393"/><rect x="140.77" y="933.08" width="2.01" height="1.95" fill="#888888"/><rect x="142.12" y="933.32" width="2.49" height="1.66" fill="#8b8b8b"/><rect x="135.61" y="935.09" width="3.24" height="1.49" fill="#b3b3b3"/><rect x="137.2" y="935.9" width="2.28" height="1.68" fill="#aeaeae"/><rect x="134" y="938.54" width="3.99" height="1.44" fill="#8d8d8d"/><rect x="138.72" y="938.77" width="1.51" height="2.08" fill="#989898"/><rect x="133.48" y="932.72" width="3.71" height="1.55" fill="#9e9e9e"/><rect x="132.32" y="937.27" width="3.1" height="2.09" fill="#969696"/><rect x="135.74" y="936.99" width="2.76" height="1.18" fill="#b2b2b2"/><rect x="145.63" y="940.35" width="1.77" height="1.59" fill="#8d8d8d"/><rect x="148.73" y="936.21" width="1.82" height="2.13" fill="#858585"/><rect x="145.62" y="937.65" width="3.82" height="1.47" fill="#acacac"/><rect x="134.86" y="935.7" width="1.9" height="1.94" fill="#aeaeae"/></g>
<g filter="url(#bl3)"><rect x="153.6" y="932.4" width="12.8" height="10" rx="1.5" fill="#3a3a3a"/><rect x="155.61" y="935.91" width="3.57" height="1.22" fill="#3b3b3b"/><rect x="156.15" y="938.82" width="2.46" height="1.15" fill="#616161"/><rect x="162.08" y="932.72" width="1.6" height="1.67" fill="#5b5b5b"/><rect x="159.65" y="937.59" width="1.79" height="1.72" fill="#272727"/><rect x="157.96" y="937.87" width="2.55" height="1.7" fill="#353535"/><rect x="159.92" y="936.79" width="2.6" height="1.03" fill="#202020"/><rect x="157.9" y="933.85" width="3.41" height="1.94" fill="#383838"/><rect x="158.35" y="933.21" width="1.77" height="1.15" fill="#353535"/><rect x="159.98" y="933.14" width="2.78" height="1.05" fill="#515151"/><rect x="154.11" y="936.63" width="3.44" height="1.61" fill="#2e2e2e"/><rect x="161.25" y="941.2" width="3.88" height="1.16" fill="#515151"/><rect x="162.69" y="936.71" width="3.54" height="1.23" fill="#676767"/><rect x="160.7" y="940.59" width="3.79" height="1.2" fill="#0f0f0f"/><rect x="155.25" y="939.66" width="2.38" height="1.91" fill="#242424"/><rect x="158.25" y="940.52" width="3.54" height="1.17" fill="#1d1d1d"/><rect x="157" y="932.71" width="2.16" height="1.61" fill="#1b1b1b"/><rect x="161.01" y="939.45" width="1.9" height="2.12" fill="#191919"/><rect x="158.56" y="938.04" width="3.46" height="1.14" fill="#2c2c2c"/><rect x="158.89" y="939.75" width="3.68" height="1.67" fill="#131313"/><rect x="157.08" y="938.98" width="3.98" height="1.76" fill="#232323"/><rect x="156.78" y="938.75" width="3.98" height="1.69" fill="#353535"/><rect x="154.12" y="939.05" width="1.94" height="1.89" fill="#222222"/><rect x="159.28" y="937.59" width="3.1" height="2.18" fill="#282828"/><rect x="155.29" y="937.92" width="1.5" height="1.04" fill="#343434"/><rect x="154.92" y="934.2" width="2.78" height="2.07" fill="#494949"/><rect x="157.59" y="933.36" width="1.56" height="1" fill="#2c2c2c"/><rect x="159.93" y="934.09" width="2.06" height="1.7" fill="#464646"/><rect x="163.07" y="934.55" width="2.69" height="1.16" fill="#171717"/><rect x="163.24" y="938.84" width="1.74" height="1.77" fill="#313131"/><rect x="160.46" y="937.45" width="2.16" height="1.01" fill="#2c2c2c"/><rect x="162.68" y="938.61" width="3.11" height="1.53" fill="#212121"/><rect x="158.41" y="936.03" width="3.76" height="1.05" fill="#202020"/><rect x="153.74" y="936.84" width="1.65" height="1.93" fill="#666666"/><rect x="160.26" y="936.84" width="1.86" height="1.24" fill="#484848"/><rect x="156.47" y="935.04" width="3.53" height="1.21" fill="#0d0d0d"/></g>
<rect x="114.4" y="946.6" width="53.5" height="13.2" fill="#c6c6c6"/>
<rect x="114.8" y="950" width="15.5" height="5.2" rx="2.6" fill="#050505" filter="url(#bl)"/>
<rect x="131.9" y="950.2" width="18.1" height="4.2" rx="2.1" fill="#060606" filter="url(#bl)"/>
<rect x="151.9" y="950" width="15.7" height="5.2" rx="2.6" fill="#050505" filter="url(#bl)"/>
<text x="69.4" y="911.6" font-size="10" textLength="27.6" lengthAdjust="spacingAndGlyphs" stroke="#111" stroke-width="0.22">SphK1</text>
<text x="69.4" y="927.3" font-size="10" textLength="27.6" lengthAdjust="spacingAndGlyphs" stroke="#111" stroke-width="0.22">SphK2</text>
<text x="69.4" y="943.1" font-size="10" textLength="19.5" lengthAdjust="spacingAndGlyphs" stroke="#111" stroke-width="0.22">GCS</text>
<text x="69.4" y="958.5" font-size="10" textLength="31.5" lengthAdjust="spacingAndGlyphs" stroke="#111" stroke-width="0.22">β-Actin</text>
<text x="172.4" y="910.5" font-size="10" textLength="27.6" lengthAdjust="spacingAndGlyphs" stroke="#111" stroke-width="0.22">SphK1</text>
<text x="172.4" y="925.8" font-size="10" textLength="27.6" lengthAdjust="spacingAndGlyphs" stroke="#111" stroke-width="0.22">SphK2</text>
<text x="172.4" y="941.5" font-size="10" textLength="19.5" lengthAdjust="spacingAndGlyphs" stroke="#111" stroke-width="0.22">GCS</text>
<text x="172.4" y="956.8" font-size="10" textLength="31.5" lengthAdjust="spacingAndGlyphs" stroke="#111" stroke-width="0.22">β-Actin</text>
<text x="39.2" y="876" font-size="10.2" text-anchor="end" textLength="32" lengthAdjust="spacingAndGlyphs" transform="rotate(-45 39.2 876)" stroke="#111" stroke-width="0.08">Vehicle</text>
<text x="46.2" y="886.3" font-size="10.2" text-anchor="end" textLength="16" lengthAdjust="spacingAndGlyphs" transform="rotate(-45 46.2 886.3)" stroke="#111" stroke-width="0.08">315</text>
<text x="65" y="886.3" font-size="10.2" text-anchor="end" textLength="16.5" lengthAdjust="spacingAndGlyphs" transform="rotate(-45 65 886.3)" stroke="#111" stroke-width="0.08">403</text>
<text x="144.4" y="876.2" font-size="10.2" text-anchor="end" textLength="32" lengthAdjust="spacingAndGlyphs" transform="rotate(-45 144.4 876.2)" stroke="#111" stroke-width="0.08">Vehicle</text>
<text x="151.2" y="885.8" font-size="10.2" text-anchor="end" textLength="16" lengthAdjust="spacingAndGlyphs" transform="rotate(-45 151.2 885.8)" stroke="#111" stroke-width="0.08">315</text>
<text x="170" y="886.3" font-size="10.2" text-anchor="end" textLength="16.5" lengthAdjust="spacingAndGlyphs" transform="rotate(-45 170 886.3)" stroke="#111" stroke-width="0.08">403</text>
<text x="226.91" y="842.7" font-size="16.4" font-weight="bold" textLength="3.28" lengthAdjust="spacingAndGlyphs" fill="#000" stroke="#000" stroke-width="0.6">I</text>
<text x="258.6" y="952.7" font-size="9.8" text-anchor="end" textLength="13.2" lengthAdjust="spacingAndGlyphs" stroke="#111" stroke-width="0.25">0.0</text>
<line x1="263.1" y1="949.5" x2="267.3" y2="949.5" stroke="#000" stroke-width="1.1"/>
<text x="258.6" y="940.26" font-size="9.8" text-anchor="end" textLength="13.2" lengthAdjust="spacingAndGlyphs" stroke="#111" stroke-width="0.25">0.2</text>
<line x1="263.1" y1="937.06" x2="267.3" y2="937.06" stroke="#000" stroke-width="1.1"/>
<text x="258.6" y="927.82" font-size="9.8" text-anchor="end" textLength="13.2" lengthAdjust="spacingAndGlyphs" stroke="#111" stroke-width="0.25">0.4</text>
<line x1="263.1" y1="924.62" x2="267.3" y2="924.62" stroke="#000" stroke-width="1.1"/>
<text x="258.6" y="915.38" font-size="9.8" text-anchor="end" textLength="13.2" lengthAdjust="spacingAndGlyphs" stroke="#111" stroke-width="0.25">0.6</text>
<line x1="263.1" y1="912.18" x2="267.3" y2="912.18" stroke="#000" stroke-width="1.1"/>
<text x="258.6" y="902.94" font-size="9.8" text-anchor="end" textLength="13.2" lengthAdjust="spacingAndGlyphs" stroke="#111" stroke-width="0.25">0.8</text>
<line x1="263.1" y1="899.74" x2="267.3" y2="899.74" stroke="#000" stroke-width="1.1"/>
<text x="258.6" y="890.5" font-size="9.8" text-anchor="end" textLength="13.2" lengthAdjust="spacingAndGlyphs" stroke="#111" stroke-width="0.25">1.0</text>
<line x1="263.1" y1="887.3" x2="267.3" y2="887.3" stroke="#000" stroke-width="1.1"/>
<text x="258.6" y="878.06" font-size="9.8" text-anchor="end" textLength="13.2" lengthAdjust="spacingAndGlyphs" stroke="#111" stroke-width="0.25">1.2</text>
<line x1="263.1" y1="874.86" x2="267.3" y2="874.86" stroke="#000" stroke-width="1.1"/>
<rect x="271.57" y="887.57" width="6.45" height="61.65" fill="#a4032c" stroke="#8c0325" stroke-width="0.55"/>
<line x1="274.8" y1="884.81" x2="274.8" y2="889.79" stroke="#111" stroke-width="0.9"/>
<line x1="273" y1="884.81" x2="276.6" y2="884.81" stroke="#111" stroke-width="0.9"/>
<line x1="273" y1="889.79" x2="276.6" y2="889.79" stroke="#111" stroke-width="0.9"/>
<rect x="278.93" y="942.31" width="6.45" height="6.91" fill="#2c4a87" stroke="#1f3a70" stroke-width="0.55"/>
<line x1="282.15" y1="940.17" x2="282.15" y2="943.9" stroke="#111" stroke-width="0.9"/>
<line x1="280.35" y1="940.17" x2="283.95" y2="940.17" stroke="#111" stroke-width="0.9"/>
<line x1="280.35" y1="943.9" x2="283.95" y2="943.9" stroke="#111" stroke-width="0.9"/>
<circle cx="280.9" cy="936.67" r="0.9" fill="#161616"/>
<circle cx="283.4" cy="936.67" r="0.9" fill="#161616"/>
<rect x="286.27" y="907.48" width="6.45" height="41.75" fill="#68ad3e" stroke="#559a2e" stroke-width="0.55"/>
<line x1="289.5" y1="903.47" x2="289.5" y2="910.94" stroke="#111" stroke-width="0.9"/>
<line x1="287.7" y1="903.47" x2="291.3" y2="903.47" stroke="#111" stroke-width="0.9"/>
<line x1="287.7" y1="910.94" x2="291.3" y2="910.94" stroke="#111" stroke-width="0.9"/>
<circle cx="289.5" cy="899.97" r="0.9" fill="#161616"/>
<line x1="282.15" y1="949.5" x2="282.15" y2="953.7" stroke="#000" stroke-width="1"/>
<rect x="300.43" y="887.57" width="6.45" height="61.65" fill="#a4032c" stroke="#8c0325" stroke-width="0.55"/>
<line x1="303.65" y1="884.19" x2="303.65" y2="890.41" stroke="#111" stroke-width="0.9"/>
<line x1="301.85" y1="884.19" x2="305.45" y2="884.19" stroke="#111" stroke-width="0.9"/>
<line x1="301.85" y1="890.41" x2="305.45" y2="890.41" stroke="#111" stroke-width="0.9"/>
<rect x="307.78" y="937.33" width="6.45" height="11.89" fill="#2c4a87" stroke="#1f3a70" stroke-width="0.55"/>
<line x1="311" y1="934.57" x2="311" y2="939.55" stroke="#111" stroke-width="0.9"/>
<line x1="309.2" y1="934.57" x2="312.8" y2="934.57" stroke="#111" stroke-width="0.9"/>
<line x1="309.2" y1="939.55" x2="312.8" y2="939.55" stroke="#111" stroke-width="0.9"/>
<circle cx="309.75" cy="931.07" r="0.9" fill="#161616"/>
<circle cx="312.25" cy="931.07" r="0.9" fill="#161616"/>
<rect x="315.12" y="914.94" width="6.45" height="34.28" fill="#68ad3e" stroke="#559a2e" stroke-width="0.55"/>
<line x1="318.35" y1="912.8" x2="318.35" y2="916.53" stroke="#111" stroke-width="0.9"/>
<line x1="316.55" y1="912.8" x2="320.15" y2="912.8" stroke="#111" stroke-width="0.9"/>
<line x1="316.55" y1="916.53" x2="320.15" y2="916.53" stroke="#111" stroke-width="0.9"/>
<circle cx="318.35" cy="909.3" r="0.9" fill="#161616"/>
<line x1="311" y1="949.5" x2="311" y2="953.7" stroke="#000" stroke-width="1"/>
<rect x="329.27" y="887.57" width="6.45" height="61.65" fill="#a4032c" stroke="#8c0325" stroke-width="0.55"/>
<line x1="332.5" y1="884.81" x2="332.5" y2="889.79" stroke="#111" stroke-width="0.9"/>
<line x1="330.7" y1="884.81" x2="334.3" y2="884.81" stroke="#111" stroke-width="0.9"/>
<line x1="330.7" y1="889.79" x2="334.3" y2="889.79" stroke="#111" stroke-width="0.9"/>
<rect x="336.62" y="939.2" width="6.45" height="10.02" fill="#2c4a87" stroke="#1f3a70" stroke-width="0.55"/>
<line x1="339.85" y1="937.68" x2="339.85" y2="940.17" stroke="#111" stroke-width="0.9"/>
<line x1="338.05" y1="937.68" x2="341.65" y2="937.68" stroke="#111" stroke-width="0.9"/>
<line x1="338.05" y1="940.17" x2="341.65" y2="940.17" stroke="#111" stroke-width="0.9"/>
<circle cx="338.6" cy="934.18" r="0.9" fill="#161616"/>
<circle cx="341.1" cy="934.18" r="0.9" fill="#161616"/>
<rect x="343.97" y="929.87" width="6.45" height="19.35" fill="#68ad3e" stroke="#559a2e" stroke-width="0.55"/>
<line x1="347.2" y1="926.49" x2="347.2" y2="932.71" stroke="#111" stroke-width="0.9"/>
<line x1="345.4" y1="926.49" x2="349" y2="926.49" stroke="#111" stroke-width="0.9"/>
<line x1="345.4" y1="932.71" x2="349" y2="932.71" stroke="#111" stroke-width="0.9"/>
<circle cx="345.95" cy="922.99" r="0.9" fill="#161616"/>
<circle cx="348.45" cy="922.99" r="0.9" fill="#161616"/>
<line x1="339.85" y1="949.5" x2="339.85" y2="953.7" stroke="#000" stroke-width="1"/>
<line x1="267.3" y1="870.2" x2="267.3" y2="950.2" stroke="#000" stroke-width="1.5"/>
<line x1="263.1" y1="949.5" x2="355" y2="949.5" stroke="#000" stroke-width="1.5"/>
<text x="286.95" y="963.3" font-size="10.2" text-anchor="end" textLength="55" lengthAdjust="spacingAndGlyphs" transform="rotate(-45 286.95 963.3)" stroke="#111" stroke-width="0.05">SphK1/Actin</text>
<text x="315.8" y="963.3" font-size="10.2" text-anchor="end" textLength="55" lengthAdjust="spacingAndGlyphs" transform="rotate(-45 315.8 963.3)" stroke="#111" stroke-width="0.05">SphK2/Actin</text>
<text x="344.65" y="963.3" font-size="10.2" text-anchor="end" textLength="45" lengthAdjust="spacingAndGlyphs" transform="rotate(-45 344.65 963.3)" stroke="#111" stroke-width="0.05">GCS/Actin</text>
<text x="290.1" y="862.7" font-size="12.3" textLength="41.8" lengthAdjust="spacingAndGlyphs" stroke="#111" stroke-width="0.08">BCBL-1</text>
<line x1="289.1" y1="864.1" x2="332.9" y2="864.1" stroke="#222" stroke-width="0.95"/>
<text x="236.9" y="909.8" font-size="11.8" text-anchor="middle" textLength="85.5" lengthAdjust="spacingAndGlyphs" transform="rotate(-90 236.9 909.8)" stroke="#111" stroke-width="0.25">Relative expression</text>
<text x="401.5" y="952.7" font-size="9.8" text-anchor="end" textLength="13.2" lengthAdjust="spacingAndGlyphs" stroke="#111" stroke-width="0.25">0.0</text>
<line x1="406" y1="949.5" x2="410.2" y2="949.5" stroke="#000" stroke-width="1.1"/>
<text x="401.5" y="940.26" font-size="9.8" text-anchor="end" textLength="13.2" lengthAdjust="spacingAndGlyphs" stroke="#111" stroke-width="0.25">0.2</text>
<line x1="406" y1="937.06" x2="410.2" y2="937.06" stroke="#000" stroke-width="1.1"/>
<text x="401.5" y="927.82" font-size="9.8" text-anchor="end" textLength="13.2" lengthAdjust="spacingAndGlyphs" stroke="#111" stroke-width="0.25">0.4</text>
<line x1="406" y1="924.62" x2="410.2" y2="924.62" stroke="#000" stroke-width="1.1"/>
<text x="401.5" y="915.38" font-size="9.8" text-anchor="end" textLength="13.2" lengthAdjust="spacingAndGlyphs" stroke="#111" stroke-width="0.25">0.6</text>
<line x1="406" y1="912.18" x2="410.2" y2="912.18" stroke="#000" stroke-width="1.1"/>
<text x="401.5" y="902.94" font-size="9.8" text-anchor="end" textLength="13.2" lengthAdjust="spacingAndGlyphs" stroke="#111" stroke-width="0.25">0.8</text>
<line x1="406" y1="899.74" x2="410.2" y2="899.74" stroke="#000" stroke-width="1.1"/>
<text x="401.5" y="890.5" font-size="9.8" text-anchor="end" textLength="13.2" lengthAdjust="spacingAndGlyphs" stroke="#111" stroke-width="0.25">1.0</text>
<line x1="406" y1="887.3" x2="410.2" y2="887.3" stroke="#000" stroke-width="1.1"/>
<text x="401.5" y="878.06" font-size="9.8" text-anchor="end" textLength="13.2" lengthAdjust="spacingAndGlyphs" stroke="#111" stroke-width="0.25">1.2</text>
<line x1="406" y1="874.86" x2="410.2" y2="874.86" stroke="#000" stroke-width="1.1"/>
<rect x="414.38" y="887.57" width="6.45" height="61.65" fill="#a4032c" stroke="#8c0325" stroke-width="0.55"/>
<line x1="417.6" y1="884.19" x2="417.6" y2="890.41" stroke="#111" stroke-width="0.9"/>
<line x1="415.8" y1="884.19" x2="419.4" y2="884.19" stroke="#111" stroke-width="0.9"/>
<line x1="415.8" y1="890.41" x2="419.4" y2="890.41" stroke="#111" stroke-width="0.9"/>
<rect x="421.73" y="931.74" width="6.45" height="17.49" fill="#2c4a87" stroke="#1f3a70" stroke-width="0.55"/>
<line x1="424.95" y1="930.22" x2="424.95" y2="932.71" stroke="#111" stroke-width="0.9"/>
<line x1="423.15" y1="930.22" x2="426.75" y2="930.22" stroke="#111" stroke-width="0.9"/>
<line x1="423.15" y1="932.71" x2="426.75" y2="932.71" stroke="#111" stroke-width="0.9"/>
<circle cx="423.7" cy="926.72" r="0.9" fill="#161616"/>
<circle cx="426.2" cy="926.72" r="0.9" fill="#161616"/>
<rect x="429.07" y="926.76" width="6.45" height="22.46" fill="#68ad3e" stroke="#559a2e" stroke-width="0.55"/>
<line x1="432.3" y1="923.38" x2="432.3" y2="929.6" stroke="#111" stroke-width="0.9"/>
<line x1="430.5" y1="923.38" x2="434.1" y2="923.38" stroke="#111" stroke-width="0.9"/>
<line x1="430.5" y1="929.6" x2="434.1" y2="929.6" stroke="#111" stroke-width="0.9"/>
<circle cx="431.05" cy="919.88" r="0.9" fill="#161616"/>
<circle cx="433.55" cy="919.88" r="0.9" fill="#161616"/>
<line x1="424.95" y1="949.5" x2="424.95" y2="953.7" stroke="#000" stroke-width="1"/>
<rect x="443.52" y="887.57" width="6.45" height="61.65" fill="#a4032c" stroke="#8c0325" stroke-width="0.55"/>
<line x1="446.75" y1="885.43" x2="446.75" y2="889.17" stroke="#111" stroke-width="0.9"/>
<line x1="444.95" y1="885.43" x2="448.55" y2="885.43" stroke="#111" stroke-width="0.9"/>
<line x1="444.95" y1="889.17" x2="448.55" y2="889.17" stroke="#111" stroke-width="0.9"/>
<rect x="450.88" y="904.37" width="6.45" height="44.86" fill="#2c4a87" stroke="#1f3a70" stroke-width="0.55"/>
<line x1="454.1" y1="901.61" x2="454.1" y2="906.58" stroke="#111" stroke-width="0.9"/>
<line x1="452.3" y1="901.61" x2="455.9" y2="901.61" stroke="#111" stroke-width="0.9"/>
<line x1="452.3" y1="906.58" x2="455.9" y2="906.58" stroke="#111" stroke-width="0.9"/>
<circle cx="454.1" cy="898.11" r="0.9" fill="#161616"/>
<rect x="458.22" y="916.81" width="6.45" height="32.42" fill="#68ad3e" stroke="#559a2e" stroke-width="0.55"/>
<line x1="461.45" y1="913.42" x2="461.45" y2="919.64" stroke="#111" stroke-width="0.9"/>
<line x1="459.65" y1="913.42" x2="463.25" y2="913.42" stroke="#111" stroke-width="0.9"/>
<line x1="459.65" y1="919.64" x2="463.25" y2="919.64" stroke="#111" stroke-width="0.9"/>
<circle cx="461.45" cy="909.92" r="0.9" fill="#161616"/>
<line x1="454.1" y1="949.5" x2="454.1" y2="953.7" stroke="#000" stroke-width="1"/>
<rect x="472.68" y="887.57" width="6.45" height="61.65" fill="#a4032c" stroke="#8c0325" stroke-width="0.55"/>
<line x1="475.9" y1="885.43" x2="475.9" y2="889.17" stroke="#111" stroke-width="0.9"/>
<line x1="474.1" y1="885.43" x2="477.7" y2="885.43" stroke="#111" stroke-width="0.9"/>
<line x1="474.1" y1="889.17" x2="477.7" y2="889.17" stroke="#111" stroke-width="0.9"/>
<rect x="480.03" y="935.47" width="6.45" height="13.76" fill="#2c4a87" stroke="#1f3a70" stroke-width="0.55"/>
<line x1="483.25" y1="932.71" x2="483.25" y2="937.68" stroke="#111" stroke-width="0.9"/>
<line x1="481.45" y1="932.71" x2="485.05" y2="932.71" stroke="#111" stroke-width="0.9"/>
<line x1="481.45" y1="937.68" x2="485.05" y2="937.68" stroke="#111" stroke-width="0.9"/>
<circle cx="482" cy="929.21" r="0.9" fill="#161616"/>
<circle cx="484.5" cy="929.21" r="0.9" fill="#161616"/>
<rect x="487.38" y="928.63" width="6.45" height="20.6" fill="#68ad3e" stroke="#559a2e" stroke-width="0.55"/>
<line x1="490.6" y1="927.11" x2="490.6" y2="929.6" stroke="#111" stroke-width="0.9"/>
<line x1="488.8" y1="927.11" x2="492.4" y2="927.11" stroke="#111" stroke-width="0.9"/>
<line x1="488.8" y1="929.6" x2="492.4" y2="929.6" stroke="#111" stroke-width="0.9"/>
<circle cx="489.35" cy="923.61" r="0.9" fill="#161616"/>
<circle cx="491.85" cy="923.61" r="0.9" fill="#161616"/>
<line x1="483.25" y1="949.5" x2="483.25" y2="953.7" stroke="#000" stroke-width="1"/>
<line x1="410.2" y1="870.5" x2="410.2" y2="950.2" stroke="#000" stroke-width="1.5"/>
<line x1="406" y1="949.5" x2="494.6" y2="949.5" stroke="#000" stroke-width="1.5"/>
<text x="429.75" y="963.3" font-size="10.2" text-anchor="end" textLength="55" lengthAdjust="spacingAndGlyphs" transform="rotate(-45 429.75 963.3)" stroke="#111" stroke-width="0.05">SphK1/Actin</text>
<text x="458.9" y="963.3" font-size="10.2" text-anchor="end" textLength="55" lengthAdjust="spacingAndGlyphs" transform="rotate(-45 458.9 963.3)" stroke="#111" stroke-width="0.05">SphK2/Actin</text>
<text x="488.05" y="963.3" font-size="10.2" text-anchor="end" textLength="45" lengthAdjust="spacingAndGlyphs" transform="rotate(-45 488.05 963.3)" stroke="#111" stroke-width="0.05">GCS/Actin</text>
<text x="436.3" y="862.7" font-size="12.3" textLength="36.1" lengthAdjust="spacingAndGlyphs" stroke="#111" stroke-width="0.08">BCP-1</text>
<line x1="435.3" y1="864.1" x2="473.4" y2="864.1" stroke="#222" stroke-width="0.95"/>
<text x="380" y="909.8" font-size="11.8" text-anchor="middle" textLength="85.5" lengthAdjust="spacingAndGlyphs" transform="rotate(-90 380 909.8)" stroke="#111" stroke-width="0.25">Relative expression</text>
<rect x="322.9" y="1018.3" width="10" height="5.4" fill="#a4032c"/>
<text x="336.9" y="1023.8" font-size="8.5" textLength="25.6" lengthAdjust="spacingAndGlyphs" stroke="#111" stroke-width="0.05">Vehicle</text>
<rect x="376.8" y="1018.3" width="10" height="5.4" fill="#2c4a87"/>
<text x="390.8" y="1023.8" font-size="8.5" textLength="13.4" lengthAdjust="spacingAndGlyphs" stroke="#111" stroke-width="0.05">315</text>
<rect x="418.2" y="1018.3" width="10" height="5.4" fill="#68ad3e"/>
<text x="432.5" y="1023.8" font-size="8.5" textLength="13.5" lengthAdjust="spacingAndGlyphs" stroke="#111" stroke-width="0.05">403</text></svg>
</body></html>
